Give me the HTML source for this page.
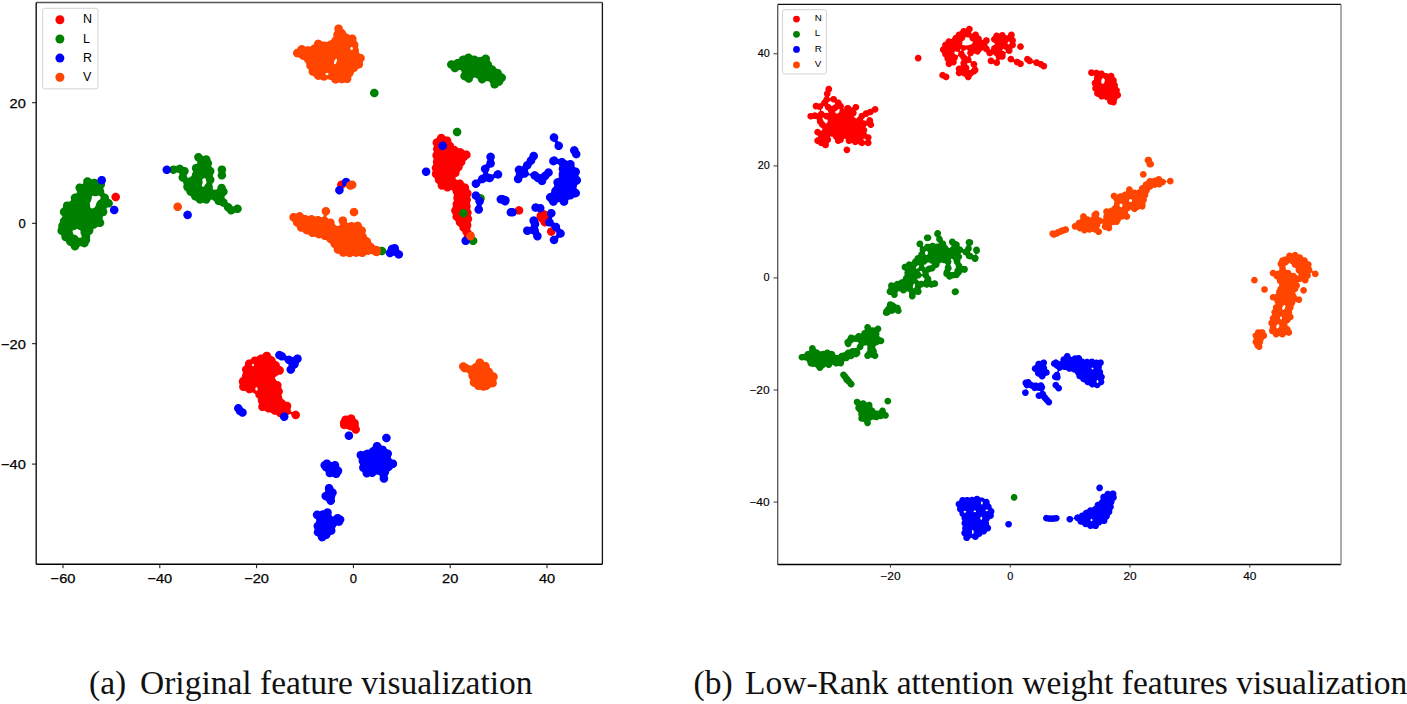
<!DOCTYPE html>
<html><head><meta charset="utf-8"><style>
html,body{margin:0;padding:0;background:#fff;}
body{width:1407px;height:704px;overflow:hidden;position:relative;}
svg{position:absolute;left:0;top:0;}
.tl{font-family:"Liberation Sans",sans-serif;font-size:13px;fill:#000;stroke:#000;stroke-width:0.25px;}
.tr{font-family:"Liberation Sans",sans-serif;font-size:11px;fill:#000;stroke:#000;stroke-width:0.15px;}
.lg1{font-family:"Liberation Sans",sans-serif;font-size:12.5px;fill:#000;}
.lg2{font-family:"Liberation Sans",sans-serif;font-size:9.8px;fill:#000;}
.cap{position:absolute;font-family:"Liberation Serif",serif;font-size:33.5px;color:#111;white-space:pre;line-height:1;}
</style></head><body>
<svg width="1407" height="704" viewBox="0 0 1407 704">
<line x1="36.2" y1="2.5" x2="602.4" y2="2.5" stroke="#555" stroke-width="1.3"/><line x1="36.2" y1="2.5" x2="36.2" y2="564.3" stroke="#111" stroke-width="1.4"/><line x1="602.4" y1="2.5" x2="602.4" y2="564.3" stroke="#111" stroke-width="1.3"/><line x1="36.2" y1="564.3" x2="602.4" y2="564.3" stroke="#000" stroke-width="1.5"/>
<line x1="63.0" y1="564.2" x2="63.0" y2="568.2" stroke="#111" stroke-width="1"/>
<text x="63.0" y="583.3" class="tl" text-anchor="middle" textLength="24.8" lengthAdjust="spacingAndGlyphs">−60</text>
<line x1="159.8" y1="564.2" x2="159.8" y2="568.2" stroke="#111" stroke-width="1"/>
<text x="159.8" y="583.3" class="tl" text-anchor="middle" textLength="24.8" lengthAdjust="spacingAndGlyphs">−40</text>
<line x1="256.6" y1="564.2" x2="256.6" y2="568.2" stroke="#111" stroke-width="1"/>
<text x="256.6" y="583.3" class="tl" text-anchor="middle" textLength="24.8" lengthAdjust="spacingAndGlyphs">−20</text>
<line x1="353.4" y1="564.2" x2="353.4" y2="568.2" stroke="#111" stroke-width="1"/>
<text x="353.4" y="583.3" class="tl" text-anchor="middle">0</text>
<line x1="450.2" y1="564.2" x2="450.2" y2="568.2" stroke="#111" stroke-width="1"/>
<text x="450.2" y="583.3" class="tl" text-anchor="middle" textLength="16.2" lengthAdjust="spacingAndGlyphs">20</text>
<line x1="547.0" y1="564.2" x2="547.0" y2="568.2" stroke="#111" stroke-width="1"/>
<text x="547.0" y="583.3" class="tl" text-anchor="middle" textLength="16.2" lengthAdjust="spacingAndGlyphs">40</text>
<line x1="32" y1="102.7" x2="36.2" y2="102.7" stroke="#111" stroke-width="1"/>
<text x="25.8" y="107.7" class="tl" text-anchor="end" textLength="16.2" lengthAdjust="spacingAndGlyphs">20</text>
<line x1="32" y1="223.3" x2="36.2" y2="223.3" stroke="#111" stroke-width="1"/>
<text x="25.8" y="228.3" class="tl" text-anchor="end">0</text>
<line x1="32" y1="343.7" x2="36.2" y2="343.7" stroke="#111" stroke-width="1"/>
<text x="25.8" y="348.7" class="tl" text-anchor="end" textLength="24.8" lengthAdjust="spacingAndGlyphs">−20</text>
<line x1="32" y1="464.1" x2="36.2" y2="464.1" stroke="#111" stroke-width="1"/>
<text x="25.8" y="469.1" class="tl" text-anchor="end" textLength="24.8" lengthAdjust="spacingAndGlyphs">−40</text>
<line x1="777.7" y1="4.4" x2="1341" y2="4.4" stroke="#111" stroke-width="1.4"/>
<line x1="777.7" y1="4.4" x2="777.7" y2="564.4" stroke="#555" stroke-width="1.3"/>
<line x1="777.7" y1="564.4" x2="1341" y2="564.4" stroke="#000" stroke-width="1.5"/>
<line x1="1341" y1="4.4" x2="1341" y2="564.4" stroke="#888" stroke-width="1.4"/>
<line x1="890.4" y1="564.2" x2="890.4" y2="567.6" stroke="#222" stroke-width="0.9"/>
<text x="890.4" y="579.7" class="tr" text-anchor="middle" textLength="20.3" lengthAdjust="spacingAndGlyphs">−20</text>
<line x1="1010.2" y1="564.2" x2="1010.2" y2="567.6" stroke="#222" stroke-width="0.9"/>
<text x="1010.2" y="579.7" class="tr" text-anchor="middle">0</text>
<line x1="1130.0" y1="564.2" x2="1130.0" y2="567.6" stroke="#222" stroke-width="0.9"/>
<text x="1130.0" y="579.7" class="tr" text-anchor="middle" textLength="13.2" lengthAdjust="spacingAndGlyphs">20</text>
<line x1="1249.8" y1="564.2" x2="1249.8" y2="567.6" stroke="#222" stroke-width="0.9"/>
<text x="1249.8" y="579.7" class="tr" text-anchor="middle" textLength="13.2" lengthAdjust="spacingAndGlyphs">40</text>
<line x1="773.5" y1="53.8" x2="777.7" y2="53.8" stroke="#222" stroke-width="0.9"/>
<text x="769.7" y="57.3" class="tr" text-anchor="end" textLength="12" lengthAdjust="spacingAndGlyphs">40</text>
<line x1="773.5" y1="165.9" x2="777.7" y2="165.9" stroke="#222" stroke-width="0.9"/>
<text x="769.7" y="169.4" class="tr" text-anchor="end" textLength="12" lengthAdjust="spacingAndGlyphs">20</text>
<line x1="773.5" y1="277.9" x2="777.7" y2="277.9" stroke="#222" stroke-width="0.9"/>
<text x="769.7" y="281.4" class="tr" text-anchor="end">0</text>
<line x1="773.5" y1="390.0" x2="777.7" y2="390.0" stroke="#222" stroke-width="0.9"/>
<text x="769.7" y="393.5" class="tr" text-anchor="end" textLength="20.3" lengthAdjust="spacingAndGlyphs">−20</text>
<line x1="773.5" y1="502.1" x2="777.7" y2="502.1" stroke="#222" stroke-width="0.9"/>
<text x="769.7" y="505.6" class="tr" text-anchor="end" textLength="20.3" lengthAdjust="spacingAndGlyphs">−40</text>
<path d="M552.1,227.4 L551.2,227.3 L550.4,227.4 L549.6,227.7 L548.9,228.1 L548.2,228.6 L547.7,229.3 L547.3,230 L547.1,230.8 L547,231.7 L547.1,232.5 L547.4,233.3 L547.8,234 L548.3,234.7 L549,235.2 L549.7,235.6 L550.5,235.8 L551.4,235.9 L552.2,235.8 L553,235.5 L553.7,235.1 L554.4,234.6 L554.9,233.9 L555.3,233.2 L555.5,232.4 L555.6,231.5 L555.5,230.7 L555.2,229.9 L554.8,229.2 L554.3,228.5 L553.6,228 L552.9,227.6ZM540.4,222.5 L541.2,224.4 L541.8,225.1 L542.5,225.7 L543.2,226.1 L544.2,226.4 L545.8,226.4 L546.8,226.1 L548.1,225.2 L548.7,224.5 L549.1,223.8 L549.4,222.9 L549.5,221.9 L549.4,221.1 L548.9,219.5 L549.4,217.7 L549.5,216.4 L549.4,215.2 L549,214 L548.4,212.8 L547.5,211.9 L546.6,211.1 L545.5,210.5 L544.3,210.1 L543.1,210 L541.8,210.1 L540.6,210.5 L539.4,211.1 L538.5,211.9 L537.6,212.8 L537,214 L536.6,215.2 L536.5,216.4 L536.6,217.7 L537,218.9 L537.6,220.1 L538.4,221ZM520.6,206.4 L519.8,206.2 L518.9,206.1 L518.1,206.2 L517.3,206.5 L516.6,206.9 L515.9,207.4 L515.4,208.1 L515,208.8 L514.8,209.6 L514.7,210.5 L514.8,211.3 L515.1,212.1 L515.5,212.8 L516,213.5 L516.7,214 L517.4,214.4 L518.2,214.6 L519.1,214.7 L519.9,214.6 L520.7,214.3 L521.4,213.9 L522.1,213.4 L522.6,212.7 L523,212 L523.2,211.2 L523.3,210.3 L523.2,209.5 L522.9,208.7 L522.5,208 L522,207.3 L521.3,206.8ZM432.6,170.7 L432.6,171.2 L431.9,173.1 L431.8,174 L432.1,175.5 L432.5,176.2 L433,176.9 L434.5,178 L434.7,178.5 L434.8,180.5 L435,181.3 L435.4,182 L435.9,182.7 L437.4,183.8 L437.6,184.2 L437.7,186.4 L438.3,187.8 L438.8,188.4 L439.6,189.1 L441,189.7 L442,189.8 L443.3,189.6 L443.8,189.8 L445,190.8 L445.8,191.2 L446.6,191.4 L447.4,191.5 L448.3,191.4 L449.1,191.2 L450.8,190.1 L451.3,190 L451.9,190.2 L452.2,190.5 L452.5,190.9 L452.6,192.2 L452.9,193 L453.9,194.7 L454,195.2 L453.4,196.9 L453.3,197.9 L453.4,198.7 L453.9,200.4 L453.9,200.9 L452.8,202.5 L452.6,203.5 L452.6,205 L452.9,206.5 L452.8,207 L451.9,208.1 L451.5,208.9 L451.2,209.8 L451.1,210.6 L451.2,211.5 L451.5,212.3 L451.9,213 L452.7,214 L452.8,214.6 L452.4,216.6 L452.5,217.4 L452.8,218.3 L453.1,219 L453.8,219.7 L455.5,221 L455.7,221.4 L455.8,223.1 L456.4,224.5 L457,225.2 L457.6,225.7 L458.8,226.4 L459.1,226.7 L459.3,227.1 L459.4,228.5 L460,229.9 L460.7,230.6 L462.1,231.7 L462.3,232 L462.7,233.5 L463.9,235.2 L464,235.7 L463.7,237.1 L463.6,238 L463.9,239.6 L464.3,240.4 L465.4,241.5 L466.1,241.9 L466.9,242.2 L467.9,242.3 L468.7,242.2 L469.6,241.9 L470.8,241.1 L471.7,239.8 L473.2,238.6 L473.8,237.9 L474.2,237.1 L474.5,235.5 L474.5,234.6 L474.2,233.8 L473.8,233 L472.7,231.9 L471.3,231.2 L471,230.9 L470.2,229 L470.2,228.5 L471.1,226.9 L471.4,225.4 L471.4,224.5 L470.8,222.8 L470.8,222.3 L471.9,220.6 L472.1,219.8 L472.2,219 L472.2,218.2 L471.9,217.4 L471,215.8 L470.9,215.3 L471.6,213.5 L471.7,212.5 L471.6,211.7 L471.3,210.9 L470.2,209.2 L470.2,208.7 L470.7,207.1 L470.8,206.2 L470.5,204.7 L469.9,203.3 L469.9,202.8 L470.6,201.5 L470.9,200.6 L470.9,199 L470.2,197.2 L470.3,196.7 L471.3,195.1 L471.5,194.3 L471.6,193.4 L471.5,192.5 L471.3,191.7 L470.8,190.9 L470.3,190.3 L469.2,189.4 L469,188.9 L469.1,187.6 L469,186.8 L468.4,185.3 L467.8,184.6 L467.1,184.1 L466.4,183.7 L464.5,183.2 L464.1,182.9 L463.4,181.4 L462.9,180.8 L462.2,180.2 L461.5,179.8 L460.6,179.5 L459.7,179.5 L458.9,179.6 L457.5,180 L457,179.9 L456,179.1 L455.6,178.7 L455.5,178.2 L455.6,177.6 L455.9,177.2 L457.8,176.3 L458.5,175.7 L459,175.1 L459.6,173.6 L459.7,171.6 L459.9,171.2 L461.4,170.1 L462,169.4 L462.6,167.9 L462.7,166.5 L463,166.1 L464.2,165.1 L465.1,163.8 L465.3,162.9 L465.4,161.2 L465.7,160.8 L466.8,159.9 L467.5,158.9 L469.9,157.6 L470.5,156.4 L470.6,154.8 L470.5,153.9 L470.3,153 L469.4,151.7 L468.8,151.2 L468,150.8 L467.2,150.5 L466.4,150.4 L464.7,150.6 L464.2,150.4 L463.3,149.3 L462,148.5 L461.2,148.2 L460.3,148.1 L458.7,148.3 L458.2,148.1 L457.2,147.1 L456.6,146.5 L455.8,146.1 L454.5,145.7 L454.2,145.4 L453.4,143.6 L452.8,143 L451.6,142 L451.4,141.6 L451.3,139.9 L451,139 L450.2,137.7 L449.4,137.1 L448.7,136.7 L447.9,136.4 L445.7,136.4 L445.2,136.2 L444.3,135.1 L443.6,134.6 L442.9,134.1 L442.1,133.9 L441.1,133.8 L440.3,133.9 L439.5,134.1 L438.8,134.6 L437.7,135.7 L437.2,136.5 L436.8,137.8 L436.4,138.2 L435.1,138.7 L434.4,139.1 L433.7,139.6 L432.9,140.9 L432.6,141.9 L432.5,142.7 L432.6,143.5 L432.9,144.3 L433.7,145.8 L433.8,146.3 L433.1,148.1 L433,148.9 L433.1,149.9 L433.7,151.5 L433.7,152 L432.7,153.7 L432.4,154.5 L432.3,155.3 L432.4,156.1 L432.6,156.9 L433.5,158.5 L433.6,159 L432.9,160.9 L432.8,161.7 L432.9,162.7 L433.3,163.9 L433.2,164.4 L432.1,166.2 L431.8,167 L431.7,167.9 L431.8,168.7 L432,169.5ZM340.9,420.1 L340.2,421.2 L339.9,422.2 L339.9,423 L340.1,425.7 L340.3,426.5 L340.7,427.2 L341.2,427.9 L342,428.5 L343.4,429.1 L344.2,429.2 L345.1,429.1 L346.6,428.7 L347.2,428.9 L349,430.1 L351.1,430.6 L351.5,430.8 L352.7,432.6 L354,433.4 L354.9,433.7 L356.5,433.7 L357.4,433.4 L358.7,432.6 L359.3,431.8 L359.9,430.4 L360,429.4 L359.7,427.9 L358.8,426.3 L358.7,424.5 L358.8,423.1 L358.5,421.6 L358.1,420.9 L357.5,420.1 L355.8,419 L355.5,418.6 L355.1,417 L354.7,416.3 L354.2,415.6 L353.4,415 L352,414.4 L351,414.3 L350.2,414.4 L349.4,414.7 L347.5,415.8 L345.4,415.5 L343.9,415.8 L343.1,416.3 L342,417.4 L341.5,418.2 L341.2,419.4ZM342.2,180.6 L341.3,180.5 L340.5,180.6 L339.7,180.9 L339,181.3 L338.3,181.8 L337.8,182.5 L337.4,183.2 L337.2,184 L337.1,184.9 L337.2,185.7 L337.5,186.5 L337.9,187.2 L338.4,187.9 L339.1,188.4 L339.8,188.8 L340.6,189 L341.5,189.1 L342.3,189 L343.1,188.7 L343.8,188.3 L344.5,187.8 L345,187.1 L345.4,186.4 L345.6,185.6 L345.7,184.7 L345.6,183.9 L345.3,183.1 L344.9,182.4 L344.4,181.7 L343.7,181.2 L343,180.8ZM239.6,384.4 L239.2,385.9 L239.1,386.8 L239.2,387.6 L239.4,388.4 L239.8,389.2 L240.4,389.8 L241,390.3 L241.8,390.7 L242.6,390.9 L243.4,391 L245,390.8 L245.5,391 L247,392.5 L247.7,392.9 L248.7,393.2 L250.2,393.2 L252.1,392.5 L252.6,392.5 L254.9,393.8 L255.2,394.2 L255.6,396.2 L256,396.9 L256.6,397.6 L257.7,398.5 L257.9,399.1 L257.8,400.5 L257.9,401.5 L258.1,402.3 L258.9,403.6 L259,404.1 L258.3,405.9 L258.2,406.8 L258.3,407.6 L258.5,408.4 L258.9,409.2 L259.4,409.8 L260.2,410.4 L261.6,411 L262.4,411.1 L264.6,410.7 L265.1,410.9 L266.4,411.9 L267.8,412.5 L268.8,412.6 L270.3,412.4 L270.8,412.5 L271.8,413.5 L273.1,414.4 L274,414.7 L276,414.7 L276.4,414.9 L277.3,415.9 L277.9,416.5 L278.7,416.9 L279.6,417.2 L281.1,417.2 L282.1,416.9 L282.8,416.5 L284.2,415.2 L284.7,415 L286.5,415.3 L287.3,415.2 L288.3,415 L289.7,414.1 L290.2,414 L290.6,414.1 L291,414.3 L291.3,414.7 L291.7,416.5 L292.2,417.3 L293.3,418.4 L294.1,418.9 L295.6,419.2 L296.5,419.1 L297.3,418.9 L298.1,418.4 L298.8,417.9 L299.3,417.2 L299.9,415.8 L300,415 L299.9,414.1 L299.6,413.2 L298.8,411.9 L298.1,411.4 L297.4,411 L296.6,410.7 L295.8,410.6 L294.9,410.7 L294.1,410.9 L292.5,411.9 L292.1,411.9 L291.6,411.8 L291.2,411.6 L291,411.2 L290.5,408.9 L291.2,406.9 L291.3,405.9 L291,404.4 L290.6,403.5 L289.5,402.4 L288.7,402 L287.8,401.7 L286,401.7 L285.6,401.4 L284.4,399.9 L282.5,398.7 L282.3,398.2 L282.1,396.7 L281.6,395.2 L281.6,394.7 L282.6,393.1 L282.8,392.2 L282.9,391.4 L282.8,390.6 L282.5,389.8 L282.1,389 L281.3,388 L281.2,387.5 L281.6,385.4 L281.5,384.6 L281.3,383.7 L280.9,382.9 L280.3,382.2 L279.7,381.7 L278.2,381.1 L276.9,380.9 L276.5,380.7 L275.8,379.5 L274.9,378.3 L274.9,377.8 L275,377.3 L275.3,376.9 L277,376 L278.3,374.9 L278.6,374.7 L280.4,374.7 L281.2,374.4 L282,374 L282.6,373.5 L283.2,372.8 L283.8,371.3 L283.9,370.5 L283.8,369.5 L283.2,368.1 L282.7,367.5 L282,366.8 L280.4,366.1 L280,365.7 L279.6,363.8 L279.2,363 L278.7,362.4 L277.9,361.8 L276.1,360.9 L275.8,360.5 L275.4,358.9 L274.9,358 L274.4,357.4 L273.7,356.9 L273,356.5 L271.6,356 L271.2,355.6 L270.8,354.3 L270.4,353.5 L269.9,352.9 L269.1,352.3 L268.4,351.9 L267.6,351.7 L266,351.7 L265.2,351.9 L264.5,352.3 L263.8,352.8 L262.7,354.2 L262.3,354.4 L260.9,354.4 L259.4,354.7 L258.6,355.2 L257.1,356.6 L256.6,356.7 L254.8,356.4 L253.3,356.8 L252.5,357.1 L251.9,357.7 L250.7,359.2 L250.3,359.4 L248.4,359.5 L247.6,359.7 L246.8,360.1 L246.1,360.7 L245.6,361.4 L245,362.8 L244.9,364.9 L244.7,365.4 L243.4,366.4 L242.8,367 L242.4,367.8 L242.1,368.6 L242,369.4 L242.1,370.4 L243,372.4 L243,372.9 L242.3,374.1 L242.1,374.9 L242,376.7 L241.7,377.1 L240.1,378.3 L239.5,378.9 L239.1,379.7 L238.9,380.5 L238.8,381.3 L238.8,382.2ZM253.7,364.2 L254,364.8 L253.8,365.7 L253.4,366.1 L253,366.2 L252.6,366.1 L252.3,365.8 L252,365.2 L252.2,364.3 L252.4,364 L252.8,363.8 L253.4,363.9ZM257.3,387.7 L257.6,388.3 L257.7,389 L257.5,390 L257,390.7 L256.3,390.8 L255.7,390.3 L255.4,389.7 L255.3,388.6 L255.5,388 L256,387.3 L256.5,387.2 L257,387.3ZM117.3,193 L116.5,192.8 L115.6,192.7 L114.8,192.8 L114,193.1 L113.3,193.5 L112.6,194 L112.1,194.7 L111.7,195.4 L111.5,196.2 L111.4,197.1 L111.5,197.9 L111.8,198.7 L112.2,199.4 L112.7,200.1 L113.4,200.6 L114.1,201 L114.9,201.2 L115.8,201.3 L116.6,201.2 L117.4,200.9 L118.1,200.5 L118.8,200 L119.3,199.3 L119.7,198.6 L119.9,197.8 L120,196.9 L119.9,196.1 L119.6,195.3 L119.2,194.6 L118.7,193.9 L118,193.4Z" fill="#ff0000" fill-rule="evenodd"/>
<path d="M450.4,68.8 L450.7,69.1 L451.4,70.4 L451.9,71 L453.2,71.9 L454.1,72.2 L455.7,72.2 L456.6,71.9 L457.3,71.5 L458.7,70.2 L459.2,70 L460.6,70.3 L461,70.6 L461.7,72.2 L461.6,72.7 L460.6,74.4 L460.3,75.3 L460.3,76.9 L460.6,77.8 L461,78.6 L462.1,79.6 L462.9,80.1 L464.7,80.6 L465.8,81.6 L467,82.5 L467.8,82.7 L468.8,82.8 L469.6,82.7 L471.1,82.2 L471.7,81.6 L472.4,80.9 L472.7,80.1 L473.2,78.3 L473.5,77.9 L474.7,77.5 L475.2,77.5 L477.4,78.7 L477.7,79.1 L478.2,80.9 L479.1,82.1 L479.8,82.8 L481.2,83.4 L482.2,83.5 L483,83.4 L483.8,83.1 L485.1,82.2 L486.1,81.3 L486.6,81.1 L488.9,81.4 L489.4,81.7 L490.3,83.3 L490.4,85.2 L490.7,86 L491.1,86.7 L491.6,87.4 L492.3,87.9 L493,88.3 L493.8,88.5 L495.4,88.5 L496.3,88.2 L497.6,87.4 L498.6,86.1 L498.9,85.9 L500.7,85.4 L502,84.6 L502.5,83.9 L502.9,83.2 L503.5,81.7 L504.7,80.8 L505.3,80 L505.7,79.3 L505.9,78.5 L505.9,76.9 L505.7,76.1 L505.3,75.4 L504.7,74.7 L504.1,74.2 L502.3,73.3 L502,72.9 L501.6,71.5 L501.2,70.7 L500.6,70.1 L500,69.6 L499.2,69.2 L498.4,68.9 L496.9,68.8 L496.4,68.5 L495.6,67.3 L495.1,66.6 L494.4,66.1 L492.6,65.3 L492.2,64.9 L491.8,63.3 L491.5,62.6 L490,61 L489.8,60.5 L490,58.9 L489.9,58.1 L489.7,57.2 L489.3,56.5 L488.8,55.8 L488,55.2 L487.3,54.8 L486.5,54.6 L485.6,54.5 L484.1,54.8 L483.2,55.3 L481.7,56.8 L479.9,56.9 L478.5,57.3 L478,57.2 L476.9,56.3 L476.2,55.9 L475.4,55.6 L474.4,55.5 L472.8,55.7 L472.3,55.6 L470.8,54.2 L470.1,53.8 L469.3,53.5 L468.3,53.4 L466.8,53.7 L466,54.2 L464.6,55.4 L464.2,55.6 L462.2,55.6 L461.4,55.9 L460.6,56.2 L460,56.8 L459.4,57.4 L458.7,58.7 L458.2,59 L456.7,59.1 L455.9,59.3 L455.2,59.7 L454,60.6 L453.5,60.7 L452.1,60.3 L451.2,60.2 L450.4,60.3 L449,60.9 L448.3,61.4 L447.7,62.2 L447.1,63.6 L447,64.4 L447.1,65.4 L447.7,66.8 L448.2,67.5 L449,68.1ZM481.3,194.2 L480.4,194.1 L479.6,194.2 L478.8,194.5 L478.1,194.9 L477.4,195.4 L476.9,196.1 L476.5,196.8 L476.3,197.6 L476.2,198.5 L476.3,199.3 L476.6,200.1 L477,200.8 L477.5,201.5 L478.2,202 L478.9,202.4 L479.7,202.6 L480.6,202.7 L481.4,202.6 L482.2,202.3 L482.9,201.9 L483.6,201.4 L484.1,200.7 L484.5,200 L484.7,199.2 L484.8,198.3 L484.7,197.5 L484.4,196.7 L484,196 L483.5,195.3 L482.8,194.8 L482.1,194.4ZM473,236.5 L472.2,236.6 L471.4,236.9 L470.7,237.3 L470,237.8 L469.5,238.5 L469.1,239.2 L468.9,240 L468.8,240.9 L468.9,241.7 L469.2,242.5 L469.6,243.2 L470.1,243.9 L470.8,244.4 L471.5,244.8 L472.3,245 L473.2,245.1 L474,245 L474.8,244.7 L475.5,244.3 L476.2,243.8 L476.7,243.1 L477.1,242.4 L477.3,241.6 L477.4,240.7 L477.3,239.9 L477,239.1 L476.6,238.4 L476.1,237.7 L475.4,237.2 L474.7,236.8 L473.9,236.6ZM464.1,209 L463.2,208.9 L462.4,209 L461.6,209.3 L460.9,209.7 L460.2,210.2 L459.7,210.9 L459.3,211.6 L459.1,212.4 L459,213.3 L459.1,214.1 L459.4,214.9 L459.8,215.6 L460.3,216.3 L461,216.8 L461.7,217.2 L462.5,217.4 L463.4,217.5 L464.2,217.4 L465,217.1 L465.7,216.7 L466.4,216.2 L466.9,215.5 L467.3,214.8 L467.5,214 L467.6,213.1 L467.5,212.3 L467.2,211.5 L466.8,210.8 L466.3,210.1 L465.6,209.6 L464.9,209.2ZM457.9,127.8 L457,127.7 L456.2,127.8 L455.4,128.1 L454.7,128.5 L454,129 L453.5,129.7 L453.1,130.4 L452.9,131.2 L452.8,132.1 L452.9,132.9 L453.2,133.7 L453.6,134.4 L454.1,135.1 L454.8,135.6 L455.5,136 L456.3,136.2 L457.2,136.3 L458,136.2 L458.8,135.9 L459.5,135.5 L460.2,135 L460.7,134.3 L461.1,133.6 L461.3,132.8 L461.4,131.9 L461.3,131.1 L461,130.3 L460.6,129.6 L460.1,128.9 L459.4,128.4 L458.7,128ZM381.8,246.7 L381,246.8 L380.2,247.1 L379.5,247.5 L378.8,248 L378.3,248.7 L377.9,249.4 L377.7,250.2 L377.6,251.1 L377.7,251.9 L378,252.7 L378.4,253.4 L378.9,254.1 L379.6,254.6 L380.3,255 L381.1,255.2 L382,255.3 L382.8,255.2 L383.6,254.9 L384.3,254.5 L385,254 L385.5,253.3 L385.9,252.6 L386.1,251.8 L386.2,250.9 L386.1,250.1 L385.8,249.3 L385.4,248.6 L384.9,247.9 L384.2,247.4 L383.5,247 L382.7,246.8ZM375.1,88.8 L374.2,88.7 L373.4,88.8 L372.6,89.1 L371.9,89.5 L371.2,90 L370.7,90.7 L370.3,91.4 L370.1,92.2 L370,93.1 L370.1,93.9 L370.4,94.7 L370.8,95.4 L371.3,96.1 L372,96.6 L372.7,97 L373.5,97.2 L374.4,97.3 L375.2,97.2 L376,96.9 L376.7,96.5 L377.4,96 L377.9,95.3 L378.3,94.6 L378.5,93.8 L378.6,92.9 L378.5,92.1 L378.2,91.3 L377.8,90.6 L377.3,89.9 L376.6,89.4 L375.9,89ZM176.3,166 L175.8,166 L174.3,165.5 L173.3,165.4 L171.8,165.7 L171,166.2 L169.9,167.3 L169.5,168 L169.2,168.8 L169.1,169.8 L169.2,170.6 L169.5,171.4 L169.9,172.1 L171,173.2 L171.7,173.6 L172.5,173.9 L173.3,174 L174.3,173.9 L175.1,173.6 L176.8,172.6 L177.3,172.6 L178.6,173 L179,173.3 L179.3,173.6 L179.5,174.1 L179.5,174.6 L178.9,175.8 L178.6,176.6 L178.5,177.4 L178.6,178.4 L179.2,179.8 L179.8,180.6 L181.1,181.4 L182.5,181.8 L183.2,182.5 L183.7,184.6 L183.3,186 L183.2,186.8 L183.3,187.8 L183.6,188.6 L184.4,189.9 L186.1,191.2 L186.7,193.3 L187.5,194.6 L188.2,195.1 L188.9,195.5 L190.3,196 L190.7,196.2 L191,196.6 L191.3,197.8 L191.7,198.5 L192.2,199.2 L192.9,199.7 L193.7,200.2 L195.7,200.7 L197,202.5 L197.7,203 L199.1,203.6 L199.9,203.7 L200.8,203.6 L201.6,203.4 L202.8,202.8 L203.4,202.8 L204.6,203.4 L205.4,203.6 L206.3,203.7 L207.8,203.4 L208.6,202.9 L209.7,201.8 L210.6,200 L211,199.7 L211.5,199.6 L212.1,199.7 L214.3,201.3 L215.2,203.2 L215.7,203.9 L216.5,204.5 L217.9,205.1 L219.9,205.2 L221.7,206.4 L223.1,206.8 L223.5,207.1 L223.8,207.5 L224.2,208.9 L225,210.2 L225.7,210.7 L226.9,211.5 L227.7,212.7 L228.8,213.8 L229.5,214.2 L230.3,214.5 L231.3,214.6 L232.8,214.3 L233.6,213.8 L234.8,212.8 L235.4,212.7 L237.4,213.1 L238.3,213 L239.1,212.8 L239.9,212.3 L241,211.2 L241.4,210.5 L241.7,209.7 L241.8,208.9 L241.7,208 L241.5,207.2 L241.1,206.5 L240.6,205.8 L239.9,205.3 L239.2,204.9 L238.4,204.6 L237.6,204.5 L236.7,204.6 L235.9,204.8 L235.2,205.2 L233.9,206.3 L233.3,206.4 L232.8,206.3 L232.4,206 L231.6,204.8 L230.5,203.7 L229.7,203.2 L228.4,202.9 L228,202.6 L227.7,202.2 L227.4,200.9 L226.9,200.1 L226.4,199.4 L224.7,198.2 L224.5,197.6 L224.5,197.2 L224.8,195.9 L226.4,194.7 L226.9,194 L227.3,193.3 L227.6,192.5 L227.7,191.5 L227.6,190.7 L227.3,189.9 L226.9,189.2 L226,188.1 L225.5,186.4 L224.7,185.1 L224,184.6 L223.2,184.1 L222.4,183.9 L221.5,183.8 L220,184.1 L219.2,184.6 L218.5,185.1 L218,185.8 L217.4,187.2 L217.2,188.8 L216.9,189.3 L216.5,189.6 L213.9,189.8 L213.4,189.6 L212.9,189.1 L212.7,188.6 L212.9,187 L212.8,186.1 L212.2,184.5 L212.3,184 L212.4,183.6 L213.7,182.2 L214.1,181.5 L214.4,180.7 L214.5,179.7 L214.2,178.2 L213.8,177.5 L213,176.4 L212.8,175.3 L212.9,174.7 L213.8,173.5 L214.2,172.8 L214.5,171.3 L214.4,170.4 L214.2,169.6 L213.7,168.8 L213.2,168.1 L211.6,167 L211.4,166.6 L211.3,166.1 L212,164.2 L212.1,163.3 L212,162.5 L211.4,161.1 L210.6,160 L210.4,158.6 L210.1,157.8 L209.3,156.5 L208.6,156 L207.8,155.5 L206.3,155.2 L205.3,155.3 L203.5,156 L203,155.9 L202.6,155.7 L201.5,154.2 L200.8,153.7 L200,153.2 L199.2,153 L198.3,152.9 L196.8,153.2 L196,153.7 L195.3,154.2 L194.8,154.9 L194.2,156.3 L194.1,157.1 L194.2,158.1 L194.8,159.5 L195.3,160.2 L197.1,161.5 L197.3,162.1 L197.3,162.9 L197,163.4 L196.6,163.7 L195.2,163.9 L193.8,164.5 L193.1,165 L192.5,165.8 L191.9,167.2 L191.8,168.2 L192.1,169.7 L193,171.2 L193,172.1 L192.1,173.6 L191.7,175.8 L191.4,176.3 L189.9,177 L188.8,177.8 L188.4,177.9 L187.9,177.8 L187.5,177.6 L187.2,177.2 L186.8,175.9 L186.7,175.4 L186.8,174.9 L187.9,173.6 L188.3,172.9 L188.6,172.1 L188.7,171.3 L188.6,170.4 L188.4,169.6 L187.9,168.8 L187.4,168.1 L186.7,167.6 L186,167.2 L185.2,167 L183.9,166.9 L183.5,166.7 L182,165.3 L181.3,164.9 L180.5,164.7 L179.6,164.6 L178.1,164.9ZM202,186 L201.8,185.6 L201.8,185.1 L202.4,183.8 L202.7,182.3 L202.3,180.1 L202.4,179.6 L203.6,178.3 L204.1,178.2 L204.5,178.2 L205,178.3 L205.3,178.6 L205.8,179.3 L206,180.7 L206.6,182.2 L206.5,182.7 L206.4,183.1 L205.1,184.5 L204.2,186.2 L203.9,186.5 L203.4,186.7 L202.9,186.7 L202.3,186.4ZM218.4,172.3 L218.4,172.7 L217.7,174.4 L217.6,175.4 L217.7,176.2 L218,177 L218.4,177.7 L218.9,178.4 L219.6,178.9 L220.3,179.3 L221.1,179.5 L222,179.6 L222.8,179.5 L223.6,179.2 L224.3,178.8 L225,178.3 L225.8,177 L226.1,176.1 L226.1,174.5 L225.4,172.7 L225.4,172.3 L226.1,170.6 L226.2,169.6 L226.1,168.8 L225.8,168 L225.4,167.3 L224.9,166.6 L224.2,166.1 L223.5,165.7 L222,165.4 L221.1,165.5 L220.3,165.7 L219.6,166.1 L218.9,166.6 L218.4,167.3 L218,168 L217.7,168.8 L217.6,169.6 L217.7,170.6ZM58.4,227.4 L57.8,228.9 L57.5,229.8 L57.5,231.4 L57.7,232.2 L58.1,232.9 L58.7,233.7 L59.4,234.2 L60.9,234.9 L61.2,235.2 L61.3,235.6 L61.4,237.8 L62,239.2 L62.6,240 L63.3,240.5 L64,240.9 L65.3,241.2 L65.7,241.5 L66,241.9 L66.4,243.3 L67.2,244.6 L67.9,245.1 L68.6,245.5 L70.2,246 L70.6,246.4 L71,247.8 L71.4,248.5 L72,249.3 L72.7,249.8 L73.4,250.2 L74.9,250.5 L75.8,250.4 L76.7,250.1 L78,249.3 L78.5,248.6 L79.4,246.8 L79.8,246.5 L80.6,246.2 L81.2,246.2 L82.8,247.1 L83.6,247.3 L84.5,247.4 L85.3,247.3 L86.1,247 L86.8,246.6 L87.5,246.1 L88.3,244.8 L88.8,243.3 L89.5,242.3 L90.1,240.9 L90.2,239.9 L90,238.4 L90.2,237 L90.1,235.4 L90.3,234.9 L92.1,233.7 L92.7,232.9 L93.3,231.5 L93.4,229.5 L93.6,229.1 L94,228.8 L95.4,228.4 L96.1,228 L97.4,226.9 L97.9,226.7 L99.9,227.1 L100.8,227 L101.6,226.8 L102.4,226.3 L103.5,225.2 L103.9,224.5 L104.2,223.7 L104.3,222.9 L104.2,222 L104,221.2 L103.6,220.5 L102.7,219.3 L102.7,217 L102.9,216.6 L103.3,216.3 L104.7,215.9 L105.5,215.4 L106.2,214.9 L107,213.6 L107.3,212.8 L107.4,211.8 L107.1,210.3 L106.5,209.1 L106.5,208.6 L106.7,208.2 L107,207.8 L107.4,207.6 L109.4,207.5 L110.2,207.3 L110.9,206.9 L111.6,206.4 L112.1,205.7 L112.5,205 L112.8,204.2 L112.9,203.2 L112.8,202.4 L112.5,201.6 L112.1,200.9 L111.6,200.2 L110.9,199.7 L109.5,199 L109.2,198.7 L109,198.3 L108.9,196.9 L108.6,196.1 L108.2,195.4 L107.1,194.3 L106.3,193.8 L104.9,193.4 L104.5,193.1 L104.3,192.7 L104.2,190.7 L103.4,188.7 L103.4,188.1 L104.4,186.8 L104.8,186.1 L105,185.3 L105.1,184.4 L105,183.6 L104.7,182.8 L104.3,182.1 L103.8,181.4 L102.5,180.6 L101.6,180.3 L100,180.3 L98.7,180.6 L98.1,180.5 L96.8,179.4 L96.1,179 L95.3,178.8 L93.7,178.8 L92.1,179.3 L91.7,179.3 L91.3,179.1 L89.9,177.9 L89.2,177.5 L88.3,177.2 L86.7,177.2 L85.9,177.4 L85.1,177.9 L84.4,178.4 L83.9,179.1 L83.5,179.8 L83.3,180.6 L83.2,181.5 L83.3,182.8 L83.2,183.2 L82.9,183.6 L82.4,183.9 L81.9,183.9 L80.5,183.5 L78.9,183.5 L78.1,183.7 L77.4,184.1 L76.6,184.7 L76.1,185.4 L75.7,186.1 L75.5,186.9 L75.4,187.8 L75.5,188.6 L75.8,189.4 L76.8,191.1 L77,192.1 L76.9,192.6 L76.7,193 L76.4,193.3 L76,193.5 L74.2,193.6 L73.3,193.9 L72,194.7 L71.5,195.4 L71,196.2 L70.8,197 L70.8,198.6 L71.1,199.9 L71,200.4 L69.8,201.5 L69.4,201.7 L68,201.4 L66.4,201.4 L65.5,201.7 L64.8,202.1 L64.1,202.6 L63.6,203.3 L63,204.7 L62.9,205.7 L63,207 L62.8,207.6 L61.1,208.8 L60.6,209.5 L60.2,210.2 L59.9,211 L59.8,211.8 L59.9,212.7 L60.1,213.5 L60.5,214.2 L61,214.9 L62.1,215.8 L62.3,216.3 L62.3,216.8 L62.1,217.3 L60.6,218.8 L60.1,219.6 L59.9,220.4 L59.8,222.4 L58.9,223.6 L58.3,225 L58.2,226ZM90,202.5 L90.6,201.8 L91,201.1 L91.7,198.6 L91.8,196.7 L92,196.2 L92.3,195.9 L92.7,195.7 L93.2,195.7 L94.6,196.2 L95.6,196.3 L96.4,196.2 L98.1,195.6 L99.8,196 L100.2,196.3 L100.4,196.7 L100.5,197.3 L100.4,198.9 L100,199.4 L98.4,200.3 L97.3,201.4 L96,204 L95.6,206 L94.6,207.5 L92.5,208.5 L91.9,208.5 L91.5,208.3 L90.3,207.6 L90.1,207.1 L90.1,204.8 L89.7,203.4ZM72.6,231.6 L72.6,231.1 L72.9,230.6 L73.3,230.3 L75,229.9 L76.5,229 L77.4,229 L78.8,229.8 L80,230.3 L80.4,230.6 L80.6,231.1 L80.5,232.6 L80.6,233.4 L80.9,234.2 L81.6,235.5 L81.7,236.1 L81.5,237.2 L81.1,237.6 L80.7,237.8 L78.9,237.8 L78.4,237.5 L77.3,235.9 L76.6,235.4 L75.8,234.9 L73.7,234.4 L73.3,234Z" fill="#008000" fill-rule="evenodd"/>
<path d="M548.1,201.1 L549.1,202.4 L549.8,203.9 L550.3,204.6 L551.1,205.2 L552.5,205.8 L553.3,205.9 L554.2,205.8 L555,205.6 L555.7,205.2 L556.4,204.7 L556.9,204 L557.7,202.6 L558.3,202.2 L558.8,202.1 L559.3,202.3 L559.7,202.6 L560.5,204 L561,204.7 L561.7,205.2 L562.4,205.6 L563.2,205.8 L564.8,205.8 L565.7,205.5 L566.4,205.1 L567.1,204.6 L567.6,203.9 L568,203.2 L568.2,202.4 L568.3,200.4 L568.5,200 L568.8,199.7 L569.2,199.5 L570.5,199.5 L572,199.2 L572.8,198.7 L574.1,197.5 L574.5,197.4 L575.8,197.4 L577.3,197.1 L578.1,196.6 L578.8,196.1 L579.3,195.4 L579.9,194 L580,193.2 L579.9,192.3 L579.7,191.5 L579.2,190.7 L578.7,190 L576.9,188.8 L576.6,188.4 L576.5,187.9 L576.9,186.6 L577.1,185.2 L577.4,184.7 L579.1,183.9 L579.9,183.3 L580.7,182 L581,181.2 L581.1,180.4 L581,179.5 L580.7,178.6 L579.9,177.3 L578.7,176.3 L578.5,175.8 L578.6,175.2 L579.6,173.5 L579.9,172.7 L580,171.9 L579.9,171 L579.7,170.2 L579.3,169.5 L578.8,168.8 L578.1,168.3 L577.3,167.8 L575.2,167.3 L574.8,166.9 L574.5,166 L574.7,164.2 L574.4,162.7 L574,162 L573.5,161.3 L572.7,160.7 L571.3,160.1 L570.3,160 L569.5,160.1 L567.7,160.8 L567.2,160.8 L565.7,160 L564.2,158.6 L563.5,158.2 L562.7,158 L561.8,157.9 L561,158 L560.2,158.3 L559,158.9 L558.5,158.9 L558,158.7 L557.1,157.6 L556.3,157 L555.6,156.6 L554.1,156.3 L553.1,156.4 L551.7,157 L550.4,158 L549.8,158.8 L549.4,159.5 L549.2,160.3 L549.1,161.2 L549.2,162 L549.8,163.4 L550.3,164.1 L551,164.6 L551.7,165 L552.5,165.3 L553.3,165.4 L554.2,165.3 L555.1,165 L556.8,164 L557.4,163.9 L557.9,164.1 L559.2,165.6 L559.3,166.5 L558.7,168 L558.7,169 L558.7,169.8 L559.3,171.3 L559.3,171.7 L558.8,173 L558.7,173.8 L558.7,175.5 L558.9,176.9 L558.8,177.4 L558.5,177.8 L558.1,178 L556.7,178.2 L555.3,178.8 L554.5,179.4 L554,180.1 L553.6,180.8 L553.3,182.3 L553.4,183.2 L554.2,185.3 L554.1,185.8 L553.7,186.9 L552.4,187.9 L551.6,189.2 L551.3,190.1 L551.2,192.1 L550.9,192.6 L550.5,192.9 L548.6,193.3 L547.8,193.8 L546.7,194.9 L546.2,195.7 L545.9,197.2 L546,198.1 L546.2,198.9 L546.6,199.6 L547.1,200.3ZM571.8,154 L572.3,155.8 L573.1,157.1 L573.8,157.6 L574.5,158 L575.3,158.3 L576.1,158.4 L577,158.3 L577.8,158.1 L578.5,157.7 L579.2,157.2 L579.7,156.5 L580.1,155.8 L580.4,155 L580.5,154.2 L580.4,153.2 L580.1,152.4 L579.7,151.7 L578.7,150.5 L578.3,148.8 L577.8,148 L576.7,146.9 L576,146.5 L575.2,146.2 L574.4,146.1 L573.4,146.2 L572,146.8 L571.2,147.4 L570.7,148.1 L570.3,148.8 L570,150.3 L570.1,151.3 L570.7,152.7ZM548.6,216.7 L548.7,217.2 L548.6,217.7 L548.3,218.1 L547.1,218.8 L546.4,219.3 L545.9,220 L545.5,220.7 L545.2,221.6 L545.1,222.5 L545.2,223.3 L545.8,224.7 L546.3,225.4 L547,225.9 L547.7,226.3 L548.5,226.6 L550.7,226.6 L551.2,226.9 L551.5,227.3 L551.9,228.6 L552.3,229.3 L552.9,230.1 L554.2,230.9 L555.6,231.4 L556,231.7 L556.3,232.2 L556.3,234.3 L556.2,234.7 L556,235.2 L555.7,235.5 L555.2,235.7 L553.2,235.7 L552.3,236 L551.6,236.4 L550.5,237.5 L550.1,238.2 L549.8,239 L549.7,239.8 L549.8,240.8 L550.1,241.6 L550.5,242.3 L551.6,243.4 L552.3,243.8 L553.2,244.1 L554.1,244.2 L554.9,244.1 L555.7,243.8 L556.4,243.4 L557.1,242.9 L557.6,242.2 L558,241.5 L558.2,240.7 L558.3,238.7 L558.5,238.2 L558.8,237.9 L559.3,237.7 L560.6,237.8 L561.4,237.7 L562.8,237.1 L563.6,236.5 L564.4,235.2 L564.7,234.4 L564.8,233.6 L564.7,232.6 L564.1,231.2 L563.5,230.4 L562.2,229.6 L560.8,229.1 L560.4,228.8 L560.1,228.3 L560.1,226.1 L559.8,225.3 L559,224 L558.3,223.5 L557.5,223 L556,222.7 L554.6,222.8 L554.1,222.5 L553.8,222.1 L553.4,220.8 L553,220.1 L552.1,218.9 L552,218.4 L552.1,217.9 L552.4,217.5 L553.6,216.8 L554.4,216.2 L555.2,214.9 L555.5,214 L555.6,213.1 L555.3,211.6 L554.8,210.8 L553.7,209.7 L553,209.3 L552.2,209 L551.4,208.9 L550.5,209 L549.7,209.2 L549,209.6 L548.3,210.1 L547.8,210.8 L547.4,211.5 L547.1,212.3 L547,213.1 L547.1,214 L547.3,214.8 L547.7,215.5ZM554.4,141.9 L554.8,142.3 L555.1,142.7 L555.1,143.2 L554.5,145 L554.5,146.6 L554.7,147.4 L555.1,148.1 L555.7,148.9 L556.4,149.4 L557.1,149.8 L557.9,150 L558.8,150.1 L559.6,150 L560.4,149.7 L561.1,149.3 L561.8,148.8 L562.6,147.5 L562.9,146.6 L562.9,145 L562.6,144.1 L561.8,142.8 L561,142.2 L559.6,141.6 L558.3,141.4 L557.9,141 L557.6,140.6 L557.6,140.1 L558.2,138.4 L558.3,137.6 L558.2,136.6 L557.9,135.8 L557.1,134.5 L556.3,133.9 L554.9,133.3 L553.9,133.2 L553.1,133.3 L552.3,133.6 L551.6,134 L550.9,134.5 L550.4,135.2 L550,135.9 L549.8,136.7 L549.7,137.6 L549.8,138.4 L550.1,139.2 L550.5,139.9 L551,140.6 L551.7,141.1 L552.4,141.5ZM515.6,175.4 L514.6,176.6 L514.1,177.4 L513.8,178.9 L513.9,179.8 L514.2,180.7 L515,182 L515.7,182.5 L516.5,183 L518,183.3 L518.9,183.2 L519.7,183 L520.4,182.6 L521.1,182.1 L521.7,181.3 L522.1,180.6 L522.5,178.6 L523,178 L523.4,177.8 L525.3,177.7 L526.2,177.4 L527.5,176.6 L528.5,175.4 L529,175.2 L529.5,175.2 L529.9,175.4 L530.3,175.8 L531.1,177.7 L531.6,178.4 L532.3,178.9 L534,179.8 L534.9,181 L535.7,181.6 L536.4,182 L537.6,182.3 L538,182.6 L538.9,183.9 L539.7,184.5 L541.1,185.1 L542.1,185.2 L542.9,185.1 L543.7,184.8 L544.4,184.4 L545.1,183.9 L545.6,183.2 L546,182.5 L546.4,180.5 L546.6,180.1 L548.1,179 L548.6,178.3 L549.3,177 L550.9,176.1 L552,175 L552.5,174.2 L552.7,173.4 L552.8,172.5 L552.7,171.7 L552.4,170.9 L552,170.2 L551.5,169.5 L550.8,169 L550.1,168.6 L549.3,168.4 L548.4,168.3 L546.9,168.6 L546.1,169.1 L545,170.2 L544.2,171.6 L542.6,172.5 L541.1,174 L540.6,174.2 L540.2,174.2 L538.7,173.6 L537.7,172.3 L536.4,171.5 L535.6,171.2 L534.8,171.1 L533.8,171.2 L532.4,171.8 L531.6,172.4 L530.7,173.5 L530.2,173.7 L529.7,173.7 L529.3,173.5 L528.9,173.1 L527.9,170.7 L527.9,170.3 L528.1,169.8 L528.4,169.4 L529.6,168.8 L530.4,168.2 L531.2,166.9 L531.7,165.3 L532,164.9 L533.4,164.1 L534.5,163 L535,162.2 L535.4,160.2 L535.6,159.9 L536.7,159.1 L537.2,158.4 L537.6,157.7 L537.9,156.9 L538,156.1 L537.9,155.1 L537.6,154.3 L536.8,153 L536.1,152.5 L535.4,152.1 L534.5,151.8 L533.6,151.7 L532.8,151.8 L532,152.1 L531.3,152.5 L530.2,153.6 L529.7,154.4 L529.3,156.4 L529.1,156.7 L527.9,157.6 L527.4,158.3 L527,159 L526.6,160.5 L526.3,160.9 L524.9,161.7 L523.8,162.8 L523.3,163.6 L522.9,165.5 L522.5,165.9 L522.1,166.2 L521.6,166.2 L519.8,165.6 L518.9,165.5 L518.1,165.6 L516.7,166.2 L516,166.7 L515.5,167.4 L515,168.2 L514.8,169 L514.7,169.9 L515,171.4 L516,173.1ZM533.2,204.1 L532.1,205.2 L531.7,205.9 L531.4,206.7 L531.3,207.7 L531.4,208.5 L532,209.9 L532.6,210.7 L533.3,211.2 L534,211.6 L534.8,211.8 L535.7,211.9 L537.4,211.6 L539.3,212.4 L540.3,212.5 L541.8,212.2 L542.5,211.8 L543.2,211.3 L543.8,210.5 L544.2,209.8 L544.4,209 L544.5,208.1 L544.4,207.3 L544.1,206.5 L543.7,205.8 L543.2,205.1 L542.5,204.6 L541.8,204.2 L541,204 L540.1,203.9 L538.4,204.2 L537.2,203.6 L535.7,203.3 L534.7,203.4 L533.9,203.7ZM530.7,224 L531,225.8 L530.8,226.3 L530.5,226.6 L530,226.9 L529.5,226.9 L528.1,226.5 L527.2,226.4 L526.4,226.5 L525,227.1 L524.3,227.6 L523.8,228.3 L523.3,229.1 L523,230.6 L523.1,231.6 L523.7,233 L524.3,233.8 L525,234.3 L525.7,234.7 L527.2,235 L528.1,234.9 L528.9,234.7 L530.6,233.7 L531.4,233.7 L532.9,234.7 L533.1,235.1 L533.2,237 L533.5,237.9 L533.9,238.6 L535,239.7 L535.8,240.2 L537.3,240.5 L538.3,240.4 L539.7,239.8 L540.5,239.2 L541.3,237.9 L541.6,237 L541.6,235.4 L541.4,234.6 L540.9,233.8 L540.4,233.1 L539.2,232.2 L539,231.8 L538.9,229.8 L538,227.7 L538.1,227.2 L538.9,225.7 L539.2,224.9 L539.3,224.1 L539.2,223.2 L538.9,222.3 L538,220.6 L537.9,219.7 L537.6,218.9 L537.2,218.2 L536.7,217.5 L536,217 L535.3,216.6 L534.5,216.4 L533.6,216.3 L532.8,216.4 L532,216.7 L531.3,217.1 L530.6,217.6 L530.1,218.3 L529.7,219 L529.5,219.8 L529.4,220.7 L529.7,222.2ZM513.3,208.1 L510.1,208.1 L509.2,208.4 L508.5,208.8 L507.8,209.3 L507.3,210 L506.9,210.7 L506.7,211.5 L506.6,212.4 L506.7,213.2 L507,214 L507.4,214.7 L507.9,215.4 L508.6,215.9 L509.3,216.3 L510.8,216.6 L512.6,216.6 L514.1,216.3 L514.8,215.9 L515.5,215.4 L516,214.7 L516.5,213.9 L516.8,212.4 L516.7,211.5 L516.5,210.7 L516,209.9 L514.9,208.8 L514.2,208.4ZM501.5,203.7 L502.7,204.7 L503.4,205.1 L504.2,205.4 L505,205.5 L505.9,205.4 L506.7,205.2 L507.4,204.8 L508.1,204.3 L508.7,203.5 L509.1,202.8 L509.6,201.2 L509.7,200.4 L509.6,199.5 L509.4,198.7 L509,198 L508.5,197.3 L507.8,196.8 L507.1,196.4 L506.3,196.1 L505.5,196 L504,195.3 L503.2,195.1 L500.7,195 L499.9,195.1 L498.5,195.7 L497.8,196.2 L497.3,196.9 L496.9,197.6 L496.6,198.5 L496.6,200.1 L496.9,201 L497.7,202.3 L498.5,202.9 L499.9,203.5ZM477.2,179.4 L475,179.5 L474.2,179.8 L473.5,180.2 L472.8,180.7 L472.3,181.4 L471.9,182.1 L471.7,182.9 L471.6,183.8 L471.7,184.6 L472,185.4 L472.4,186.1 L472.9,186.8 L473.6,187.3 L474.3,187.7 L475.1,187.9 L476,188 L476.8,187.9 L477.6,187.6 L478.9,186.8 L479.4,186.1 L479.8,185.4 L480.3,183.9 L480.6,183.5 L481,183.3 L483.1,183.2 L483.9,183 L484.7,182.5 L485.9,181.6 L486.3,181.4 L486.8,181.4 L488,182 L488.9,182.3 L490.5,182.3 L491.3,182.1 L492.1,181.6 L493.2,180.5 L493.6,179.8 L494.1,178.6 L494.4,178.3 L494.8,178.1 L495.3,178 L497,178.6 L498.1,178.7 L498.9,178.6 L499.7,178.3 L500.4,177.9 L501.1,177.4 L501.6,176.7 L502,176 L502.3,174.5 L502.2,173.6 L501.9,172.7 L501.1,171.4 L500.4,170.9 L499.7,170.5 L498.9,170.2 L498.1,170.1 L497,170.2 L496.2,170.4 L495.4,170.9 L494.7,171.4 L494.2,172.1 L493.4,173.9 L493.1,174.2 L492.7,174.4 L492.2,174.5 L490.5,173.9 L489,173.8 L488.5,173.5 L488.2,173.1 L488,172.7 L488.1,172.2 L489.1,170.5 L489.5,168.5 L489.8,168.1 L490.2,167.8 L492.2,167.4 L493,166.9 L493.7,166.4 L494.2,165.7 L494.8,164.3 L494.9,163.5 L494.8,162.5 L494.5,161.7 L493.9,160.6 L493.9,160.2 L493.9,159.7 L494.5,158.6 L494.8,157.8 L494.9,157 L494.8,156.1 L494.6,155.3 L494.2,154.6 L493.7,153.9 L492.9,153.3 L492.2,152.9 L491.4,152.7 L490.5,152.6 L489.7,152.7 L488.9,153 L488.2,153.4 L487.5,153.9 L487,154.6 L486.4,156 L486.3,157 L486.6,158.5 L487.3,159.7 L487.3,160.2 L487.3,160.6 L486.6,161.8 L486.2,163.8 L485.9,164.2 L485.5,164.5 L484.2,164.7 L483.4,165 L482.7,165.4 L482,165.9 L481.5,166.6 L480.9,168 L480.8,169 L481.1,170.5 L481.6,171.3 L483,172.8 L483.1,173.3 L483.1,173.8 L482.8,174.3 L482.4,174.6 L480.6,175.1 L479.3,175.9 L478.8,176.6 L478.4,177.3 L477.9,178.8 L477.6,179.2ZM474.8,199.8 L475.3,200.5 L475.4,202 L475.6,202.8 L476.7,204.6 L476.7,205.1 L476.6,205.6 L475.2,207.1 L474.7,207.9 L474.4,209.4 L474.5,210.3 L474.7,211.1 L475.1,211.8 L475.6,212.5 L476.3,213 L477,213.4 L477.8,213.7 L478.6,213.8 L479.5,213.7 L480.3,213.5 L481,213.1 L481.8,212.5 L482.3,211.8 L482.9,210.4 L483,209.6 L482.9,208.6 L482.6,207.8 L481.6,206.1 L481.6,205.6 L481.7,205.1 L482.7,204.2 L483.5,202.9 L483.8,202 L483.8,200.4 L483.5,199.5 L482.7,198.2 L481.9,197.6 L480.7,197 L480.4,196.7 L480.2,196.3 L480.1,194.7 L479.8,193.9 L479.4,193.2 L478.3,192.1 L477.6,191.7 L476.8,191.4 L476,191.3 L475.1,191.4 L474.3,191.6 L473.6,192 L472.9,192.5 L472.4,193.2 L472,193.9 L471.7,194.7 L471.6,195.5 L471.7,196.4 L471.9,197.2 L472.3,197.9 L472.8,198.6 L473.5,199.1ZM466.5,236.6 L465.6,236.5 L464.8,236.6 L464,236.9 L463.3,237.3 L462.6,237.8 L462.1,238.5 L461.7,239.2 L461.5,240 L461.4,240.9 L461.5,241.7 L461.8,242.5 L462.2,243.2 L462.7,243.9 L463.4,244.4 L464.1,244.8 L464.9,245 L465.8,245.1 L466.6,245 L467.4,244.7 L468.1,244.3 L468.8,243.8 L469.3,243.1 L469.7,242.4 L469.9,241.6 L470,240.7 L469.9,239.9 L469.6,239.1 L469.2,238.4 L468.7,237.7 L468,237.2 L467.3,236.8ZM443.5,141.6 L442.6,141.5 L441.8,141.6 L441,141.9 L440.3,142.3 L439.6,142.8 L439.1,143.5 L438.7,144.2 L438.5,145 L438.4,145.9 L438.5,146.7 L438.8,147.5 L439.2,148.2 L439.7,148.9 L440.4,149.4 L441.1,149.8 L441.9,150 L442.8,150.1 L443.6,150 L444.4,149.7 L445.1,149.3 L445.8,148.8 L446.3,148.1 L446.7,147.4 L446.9,146.6 L447,145.7 L446.9,144.9 L446.6,144.1 L446.2,143.4 L445.7,142.7 L445,142.2 L444.3,141.8ZM426.9,167.5 L426,167.4 L425.2,167.5 L424.4,167.8 L423.7,168.2 L423,168.7 L422.5,169.4 L422.1,170.1 L421.9,170.9 L421.8,171.8 L421.9,172.6 L422.2,173.4 L422.6,174.1 L423.1,174.8 L423.8,175.3 L424.5,175.7 L425.3,175.9 L426.2,176 L427,175.9 L427.8,175.6 L428.5,175.2 L429.2,174.7 L429.7,174 L430.1,173.3 L430.3,172.5 L430.4,171.6 L430.3,170.8 L430,170 L429.6,169.3 L429.1,168.6 L428.4,168.1 L427.7,167.7ZM387.6,249.3 L386.5,250.6 L386.1,251.3 L385.8,252.2 L385.7,253.1 L386,254.6 L386.4,255.3 L387,256.1 L388.3,256.9 L389.2,257.2 L390.8,257.2 L391.6,257 L392.3,256.6 L393.4,255.8 L393.8,255.7 L394.3,255.8 L394.7,256 L395.7,257.4 L396.5,258 L397.9,258.6 L398.9,258.7 L399.7,258.6 L401.1,258 L401.9,257.4 L402.7,256.1 L403,255.2 L403.1,254.3 L402.8,252.8 L402.4,252.1 L401.9,251.4 L401.2,250.9 L399.3,250 L399,249.5 L398.9,247.5 L398.6,246.6 L397.8,245.3 L397.1,244.8 L396.4,244.4 L395.5,244.1 L393.9,244.1 L392.6,244.6 L390.4,245 L389.7,245.4 L388.9,246 L388.1,247.3ZM358.7,459 L358.8,459.5 L358.6,461.1 L358.7,462 L359,462.8 L359.9,464.3 L359.9,464.8 L359.1,466.8 L359.1,467.6 L359.1,468.6 L359.7,470 L360.3,470.7 L360.9,471.2 L362.2,472 L362.5,472.5 L362.6,473.9 L362.8,474.8 L363.2,475.5 L363.8,476.2 L364.5,476.8 L365.3,477.2 L366.1,477.4 L366.9,477.5 L368.4,477.2 L369.6,476.6 L370,476.5 L371.5,476.9 L372.4,477 L373.2,476.9 L374.6,476.3 L376.2,474.8 L376.7,474.6 L378.8,474.9 L379.4,475.5 L379.9,476.7 L379.6,478.4 L379.7,479.2 L379.9,480 L380.3,480.8 L380.9,481.4 L381.6,482 L382.4,482.4 L383.2,482.7 L384.7,482.7 L385.6,482.4 L386.4,482 L387.5,480.9 L387.9,480 L388.2,478.5 L388.1,477.5 L387.6,476 L387.7,475.4 L388.5,474.3 L388.9,473.5 L389.3,471.3 L389.7,470.9 L391.1,470.2 L391.7,469.7 L392.9,468.2 L394.6,467.7 L395.9,466.8 L396.4,466.2 L396.8,465.4 L397.1,464.5 L397.1,463 L396.9,462.1 L396.5,461.4 L396,460.7 L395.2,460.1 L394.5,459.7 L393.7,459.5 L392.2,459.4 L391.7,459 L391,457.8 L390.9,457.3 L390.9,456.8 L391.7,455.3 L391.9,454.5 L392,453.7 L391.9,452.9 L391.7,452.1 L390.8,450.8 L390.2,450.2 L389.4,449.8 L387.3,449.3 L386.9,449 L386.2,447.4 L385.1,446.3 L384.3,445.9 L383.5,445.7 L381.9,445.5 L381.4,445.2 L380.7,443.9 L380.1,443.1 L378.8,442.3 L377.9,442 L376.3,442 L375.5,442.2 L374.7,442.6 L374.1,443.1 L373.5,443.8 L373.1,444.5 L372.6,446.6 L372.3,447 L370.9,447.7 L370.2,448.2 L369.2,449.4 L368.7,449.7 L367.2,449.6 L365.6,449.9 L364.8,450.3 L363.7,451.2 L363.1,451.3 L361.6,450.9 L360.7,450.8 L359.9,450.9 L358.5,451.5 L357.8,452 L357.2,452.7 L356.8,453.5 L356.6,454.3 L356.6,455.9 L356.9,456.8 L357.3,457.5ZM386.3,433.7 L385.5,433.8 L384.7,434.1 L384,434.5 L383.3,435 L382.8,435.7 L382.4,436.4 L382.2,437.2 L382.1,438.1 L382.2,438.9 L382.5,439.7 L382.9,440.4 L383.4,441.1 L384.1,441.6 L384.8,442 L385.6,442.2 L386.5,442.3 L387.3,442.2 L388.1,441.9 L388.8,441.5 L389.5,441 L390,440.3 L390.4,439.6 L390.6,438.8 L390.7,437.9 L390.6,437.1 L390.3,436.3 L389.9,435.6 L389.4,434.9 L388.7,434.4 L388,434 L387.2,433.8ZM349.7,431.5 L348.8,431.4 L348,431.5 L347.2,431.8 L346.5,432.2 L345.8,432.7 L345.3,433.4 L344.9,434.1 L344.7,434.9 L344.6,435.8 L344.7,436.6 L345,437.4 L345.4,438.1 L345.9,438.8 L346.6,439.3 L347.3,439.7 L348.1,439.9 L349,440 L349.8,439.9 L350.6,439.6 L351.3,439.2 L352,438.7 L352.5,438 L352.9,437.3 L353.1,436.5 L353.2,435.6 L353.1,434.8 L352.8,434 L352.4,433.3 L351.9,432.6 L351.2,432.1 L350.5,431.7ZM341.4,186.2 L339.3,185.9 L338.5,186 L337.7,186.3 L337,186.7 L336.3,187.2 L335.8,187.9 L335.4,188.6 L335.2,189.4 L335.1,190.3 L335.2,191.1 L335.5,191.9 L335.9,192.6 L336.4,193.3 L337.1,193.8 L337.8,194.2 L338.6,194.4 L340.2,194.4 L341.1,194.1 L342.4,193.3 L343,192.5 L343.4,191.8 L343.7,190.3 L343.6,189.3 L342.9,187.5 L343,187 L343.2,186.5 L343.6,186.2 L344.1,186.1 L346,186.4 L346.9,186.3 L347.7,186.1 L348.5,185.6 L349.6,184.5 L350.1,183.7 L350.4,182.2 L350.3,181.2 L349.7,179.8 L349.2,179.1 L348.5,178.6 L347.8,178.2 L347,177.9 L346.2,177.8 L345.3,177.9 L344.5,178.1 L343.8,178.5 L343,179.1 L342.5,179.8 L342.1,180.5 L341.9,181.3 L341.9,182.9 L342.6,184.8 L342.5,185.3 L342.3,185.8 L341.9,186.1ZM314.5,528.9 L314.5,529.4 L313.8,531.2 L313.7,532.1 L313.8,533 L314,533.8 L314.5,534.6 L315,535.2 L315.7,535.8 L317.4,536.5 L317.7,536.9 L318.1,538.7 L318.5,539.5 L319.1,540.1 L319.7,540.7 L320.5,541.1 L321.4,541.4 L322.2,541.4 L323.7,541.1 L324.6,540.7 L326.1,539.2 L327.9,538.7 L329.1,537.9 L329.8,537.1 L330.5,535.4 L330.9,535.1 L332.9,534.6 L333.6,534.2 L334.3,533.6 L334.8,533 L335.4,531.6 L335.5,530.7 L335.4,529.9 L335,528.5 L335.1,528 L336,526.4 L336.3,526 L336.7,525.7 L337.1,525.6 L339,525.9 L339.9,525.8 L341.4,525.2 L342.1,524.6 L343,523.3 L343.1,522.8 L344,521.3 L344.3,520.5 L344.4,519.5 L344.1,518 L343.6,517.2 L342.5,516.1 L341.3,515.5 L339.4,514.3 L338.5,514 L337.7,513.9 L336.1,514.2 L335.4,514.6 L334.7,515.1 L333.9,516.1 L333.3,516.4 L332.8,516.4 L332.3,516.3 L331.5,515.3 L331.4,514.8 L331.7,513.5 L331.8,512.6 L331.7,511.7 L331.5,510.9 L331.1,510.1 L330,509 L329.2,508.6 L328.4,508.4 L327.5,508.3 L325.9,508.6 L325.1,509 L324,510 L323.6,510.2 L322.1,510.3 L321.3,510.5 L320.1,511.2 L319.6,511.2 L318,510.6 L317.2,510.5 L316.4,510.6 L315.5,510.8 L314.7,511.3 L313.6,512.4 L313.1,513.3 L312.8,514.8 L312.9,515.7 L313.2,516.5 L313.6,517.3 L314.7,518.4 L315.8,519.1 L316.1,519.5 L316.2,521.6 L316,522.1 L314.8,523 L314.3,523.6 L313.9,524.4 L313.6,525.3 L313.5,526.1 L313.6,527 L313.9,527.8ZM322.1,468.8 L322.5,469.5 L323.1,470.2 L323.7,470.7 L325.1,471.3 L325.4,471.7 L325.6,472.1 L325.7,474 L325.9,474.8 L326.3,475.5 L326.9,476.1 L327.5,476.7 L328.3,477 L329.1,477.3 L330.6,477.3 L332.3,476.7 L332.8,476.8 L334.5,477.8 L335.4,478.1 L336.9,478.1 L337.9,477.8 L338.6,477.4 L339.7,476.3 L340.6,474.4 L341.5,473.6 L342.2,471.6 L342.2,470 L341.9,469.1 L341,467.8 L339.5,466.7 L339.2,466.2 L339.2,464.4 L338.9,463.6 L338.5,462.9 L337.9,462.1 L336.6,461.3 L335.8,461 L335,460.9 L334.2,461 L333.4,461.2 L332.1,461.9 L331.6,462 L331.2,461.9 L330.8,461.7 L330,460.7 L329.3,460.1 L328.6,459.7 L327.7,459.4 L326.1,459.4 L325.2,459.7 L324.5,460.1 L323.2,461.2 L322.3,461.7 L321.6,462.2 L321.1,462.9 L320.5,464.3 L320.4,465.2 L320.5,466 L320.7,466.8 L321.1,467.6ZM324.9,488.9 L325.2,490.9 L325.1,491.4 L324.8,491.8 L323.4,492.5 L322.7,493 L322.1,493.8 L321.7,494.5 L321.5,495.3 L321.4,496.2 L321.5,497 L321.8,497.8 L322.2,498.5 L323.3,499.6 L324,500 L326.1,500.8 L326.4,501.2 L326.9,502.4 L327.3,503.1 L327.8,503.8 L328.5,504.3 L329.9,504.9 L330.7,505 L331.7,504.9 L332.5,504.6 L333.2,504.2 L334.3,503.1 L334.7,502.4 L335,501.6 L335.1,500.8 L335,499.9 L334.7,498.5 L335.2,497 L335.3,496.1 L336.1,495 L336.7,493.6 L336.8,492.6 L336.7,491.8 L336.4,491 L336,490.3 L335.5,489.6 L333.8,488.5 L333.5,488.1 L333,486.5 L332.2,485.2 L331.5,484.7 L330.8,484.3 L329.9,484 L328.3,484 L327.5,484.2 L326.8,484.6 L326.1,485.1 L325.5,485.9 L325.1,486.6 L324.9,487.4ZM277.7,351.2 L277,351.6 L275.9,352.7 L275.5,353.4 L275.2,354.2 L275.1,355 L275.2,356 L275.5,356.8 L275.9,357.5 L276.4,358.2 L277.1,358.7 L278.6,359.3 L280.2,360.3 L281,360.5 L281.9,360.6 L283.8,360.3 L284.3,360.4 L284.7,360.7 L285.4,362.2 L285.9,362.9 L286.7,363.5 L288.2,364.3 L288.5,364.7 L288.6,365.3 L288.5,365.8 L287.2,367.3 L286.8,368 L286.6,368.8 L286.5,369.7 L286.6,370.5 L286.9,371.3 L287.3,372 L287.8,372.7 L288.5,373.2 L289.2,373.6 L290,373.8 L290.9,373.9 L291.7,373.8 L292.5,373.5 L293.2,373.1 L294.3,372 L294.7,371.3 L295,370.4 L295.2,369 L295.5,368.5 L296.9,367.7 L297.6,367.2 L298.1,366.5 L298.7,365.1 L298.8,363.3 L299,362.8 L300.6,361.7 L301.4,360.4 L301.7,359.5 L301.7,357.9 L301.4,357 L301,356.3 L300.5,355.6 L299.8,355.1 L298.4,354.5 L297.6,354.4 L296.6,354.5 L295.2,355.1 L294.4,355.7 L293.5,356.8 L293,357 L292.4,357 L290.7,356 L289.8,355.7 L288.9,355.6 L287,355.9 L286.5,355.8 L286.1,355.5 L285.4,354 L284.9,353.3 L284.2,352.8 L283.5,352.4 L282.6,352.1 L281.1,351.2 L280.3,350.9 L279.3,350.8 L278.5,350.9ZM285,412.5 L284.1,412.4 L283.3,412.5 L282.5,412.8 L281.8,413.2 L281.1,413.7 L280.6,414.4 L280.2,415.1 L280,415.9 L279.9,416.8 L280,417.6 L280.3,418.4 L280.7,419.1 L281.2,419.8 L281.9,420.3 L282.6,420.7 L283.4,420.9 L284.3,421 L285.1,420.9 L285.9,420.6 L286.6,420.2 L287.3,419.7 L287.8,419 L288.2,418.3 L288.4,417.5 L288.5,416.6 L288.4,415.8 L288.1,415 L287.7,414.3 L287.2,413.6 L286.5,413.1 L285.8,412.7ZM235.9,412.1 L236.5,413.4 L237.6,414.5 L238.8,415.1 L240.8,416.4 L241.6,416.7 L242.4,416.8 L243.3,416.7 L244.1,416.5 L244.8,416.1 L245.5,415.6 L246,414.9 L246.4,414.2 L246.7,413.4 L246.8,412.6 L246.7,411.7 L246.5,410.9 L246.1,410.2 L245.6,409.5 L244.8,408.9 L243.7,408.4 L242.9,407.8 L242.4,407.2 L241.8,405.9 L240.7,404.8 L239.9,404.3 L238.4,404 L237.4,404.1 L236,404.7 L235.3,405.2 L234.8,405.9 L234.3,406.7 L234,408.2 L234.1,409.2 L234.7,410.6ZM188.4,210.7 L187.5,210.6 L186.7,210.7 L185.9,211 L185.2,211.4 L184.5,211.9 L184,212.6 L183.6,213.3 L183.4,214.1 L183.3,215 L183.4,215.8 L183.7,216.6 L184.1,217.3 L184.6,218 L185.3,218.5 L186,218.9 L186.8,219.1 L187.7,219.2 L188.5,219.1 L189.3,218.8 L190,218.4 L190.7,217.9 L191.2,217.2 L191.6,216.5 L191.8,215.7 L191.9,214.8 L191.8,214 L191.5,213.2 L191.1,212.5 L190.6,211.8 L189.9,211.3 L189.2,210.9ZM167.6,165.6 L166.7,165.5 L165.9,165.6 L165.1,165.9 L164.4,166.3 L163.7,166.8 L163.2,167.5 L162.8,168.2 L162.6,169 L162.5,169.9 L162.6,170.7 L162.9,171.5 L163.3,172.2 L163.8,172.9 L164.5,173.4 L165.2,173.8 L166,174 L166.9,174.1 L167.7,174 L168.5,173.7 L169.2,173.3 L169.9,172.8 L170.4,172.1 L170.8,171.4 L171,170.6 L171.1,169.7 L171,168.9 L170.7,168.1 L170.3,167.4 L169.8,166.7 L169.1,166.2 L168.4,165.8ZM115,205.8 L114.1,205.7 L113.3,205.8 L112.5,206.1 L111.8,206.5 L111.1,207 L110.6,207.7 L110.2,208.4 L110,209.2 L109.9,210.1 L110,210.9 L110.3,211.7 L110.7,212.4 L111.2,213.1 L111.9,213.6 L112.6,214 L113.4,214.2 L114.3,214.3 L115.1,214.2 L115.9,213.9 L116.6,213.5 L117.3,213 L117.8,212.3 L118.2,211.6 L118.4,210.8 L118.5,209.9 L118.4,209.1 L118.1,208.3 L117.7,207.6 L117.2,206.9 L116.5,206.4 L115.8,206ZM102.5,176 L101.6,175.9 L100.8,176 L100,176.3 L99.3,176.7 L98.6,177.2 L98.1,177.9 L97.7,178.6 L97.5,179.4 L97.4,180.3 L97.5,181.1 L97.8,181.9 L98.2,182.6 L98.7,183.3 L99.4,183.8 L100.1,184.2 L100.9,184.4 L101.8,184.5 L102.6,184.4 L103.4,184.1 L104.1,183.7 L104.8,183.2 L105.3,182.5 L105.7,181.8 L105.9,181 L106,180.1 L105.9,179.3 L105.6,178.5 L105.2,177.8 L104.7,177.1 L104,176.6 L103.3,176.2Z" fill="#0000ff" fill-rule="evenodd"/>
<path d="M466.1,372.2 L466.5,372.3 L467.8,373.2 L468.2,373.6 L468.5,374.2 L468.3,375.8 L468.6,377.3 L469.1,378.2 L470.2,379.5 L470.3,380 L469.8,381.6 L469.7,382.6 L469.8,383.4 L470.4,384.8 L470.9,385.5 L471.7,386.1 L472.4,386.5 L474,386.9 L474.3,387.2 L475.4,388.8 L476.2,389.4 L476.9,389.8 L478.4,390.1 L480.4,389.8 L482.5,390.7 L483.3,390.8 L484.3,390.7 L486.1,390 L487.3,389.9 L488.2,389.6 L489.5,388.8 L490.4,387.6 L490.8,387.4 L491.3,387.3 L492.7,387.4 L493.5,387.3 L494.3,387.1 L495,386.7 L495.7,386.1 L496.2,385.5 L496.6,384.7 L496.8,383.9 L496.9,383.1 L496.8,382.2 L496.3,380.7 L496.3,380.2 L497.5,378.4 L497.7,377.6 L497.8,376.8 L497.7,375.8 L497.1,374.4 L496.6,373.7 L495.8,373.1 L495.1,372.7 L493.7,372.3 L493.3,371.9 L492.8,370.4 L492.4,369.5 L491.3,368.4 L490,367.7 L489.8,367.2 L489.7,365.4 L489.4,364.6 L489,363.9 L488.5,363.2 L487.8,362.6 L487,362.2 L486.2,362 L484.6,361.9 L484.2,361.6 L483.4,360.3 L482.9,359.7 L482.2,359 L481.4,358.7 L480.6,358.4 L479.1,358.4 L478.1,358.7 L477.4,359.1 L476.8,359.7 L476.2,360.3 L475.8,361.1 L475.4,362.6 L475.1,363 L473.4,363.8 L471.9,365.2 L471.4,365.4 L468.8,365.2 L467.5,364.1 L466.2,363.4 L465.6,362.9 L464.9,362.5 L464,362.3 L462.5,362.3 L461.7,362.5 L460.9,362.9 L460.3,363.4 L459.7,364.1 L459.3,364.8 L459,365.7 L459,366.6 L459.1,367.4 L459.7,368.8 L461.6,371.1 L462.9,372 L463.7,372.3 L464.5,372.4ZM471.2,232 L470.3,231.9 L469.5,232 L468.7,232.3 L468,232.7 L467.3,233.2 L466.8,233.9 L466.4,234.6 L466.2,235.4 L466.1,236.3 L466.2,237.1 L466.5,237.9 L466.9,238.6 L467.4,239.3 L468.1,239.8 L468.8,240.2 L469.6,240.4 L470.5,240.5 L471.3,240.4 L472.1,240.1 L472.8,239.7 L473.5,239.2 L474,238.5 L474.4,237.8 L474.6,237 L474.7,236.1 L474.6,235.3 L474.3,234.5 L473.9,233.8 L473.4,233.1 L472.7,232.6 L472,232.2ZM292.4,221.5 L292.7,221.9 L293,223.3 L293.2,224.1 L293.6,224.9 L294.7,226 L296.4,226.8 L296.8,227.2 L297.2,229 L297.6,229.8 L298.1,230.4 L298.8,231 L299.6,231.4 L300.4,231.7 L302.3,231.7 L302.8,232 L303.8,233.2 L304.4,233.8 L305.2,234.1 L306.7,234.4 L308,234.4 L308.5,234.6 L309.6,235.9 L310.2,236.4 L311,236.8 L311.8,237.1 L312.6,237.1 L314.8,236.7 L315.4,236.8 L316.4,237.6 L317.3,238.1 L318.1,238.3 L318.9,238.4 L320.9,238.1 L321.4,238.2 L322.6,239.4 L323.4,239.8 L324.3,240 L325.9,240.1 L326.4,240.4 L327.6,242.1 L328.3,242.6 L330,243.4 L330.3,243.8 L330.8,245.4 L331.2,246.3 L331.8,246.9 L333.4,248.1 L333.6,248.5 L333.7,250.2 L333.9,251 L334.3,251.8 L334.8,252.4 L335.6,253 L336.3,253.4 L337.1,253.7 L338.7,253.8 L339.1,254 L340.3,255.7 L341,256.2 L341.7,256.6 L342.5,256.8 L344.1,256.8 L346.1,256 L346.6,256.1 L348.1,256.9 L348.9,257.1 L349.7,257.2 L351.3,256.9 L352.7,256 L353.2,256 L355.2,256.8 L356.2,256.9 L357.7,256.6 L358.9,256 L359.5,256 L360.7,256.7 L361.5,256.9 L362.5,257 L363.3,256.9 L364.8,256.3 L366.4,254.8 L366.8,254.7 L368.3,254.9 L369.2,254.8 L371.1,254.1 L371.6,254.1 L374.9,255.9 L375.7,256.1 L376.5,256.2 L378.1,255.9 L378.9,255.4 L380,254.3 L380.5,253.5 L380.8,251.9 L380.8,250 L380.5,248.5 L380.1,247.7 L379.5,247 L378.2,246.1 L377.2,245.9 L375.3,245.8 L374.5,245.4 L373.9,244.4 L373.4,243.7 L372.7,243.2 L371.5,242.5 L371.2,242.1 L370.8,240 L370.4,239.2 L369.9,238.5 L369.2,237.9 L367.3,237.1 L367,236.7 L366.5,235.1 L365.5,233.5 L365.4,232.9 L365.9,231.6 L366,230.7 L365.9,229.9 L365.6,228.9 L365.2,228.2 L364.7,227.6 L364,227 L362.4,226.3 L362.1,225.9 L361.6,224.2 L361.2,223.5 L360.7,222.8 L360,222.3 L359.3,221.9 L358.5,221.7 L357.6,221.6 L356.1,221.9 L354.7,222.7 L354.2,222.8 L352.4,222.1 L351.4,222 L349.9,222.3 L348.5,222.9 L348,222.9 L347.6,222.7 L347.2,222.4 L347,221.9 L347.1,220.5 L347,219.7 L346.4,218.3 L345.9,217.6 L345.1,217 L344.4,216.6 L343.6,216.4 L342,216.4 L341.1,216.7 L339.8,217.5 L339.2,218.3 L338.6,219.7 L338.5,220.5 L338.6,221.5 L338.9,222.3 L339.9,223.9 L339.9,224.4 L339.8,224.8 L339.6,225.2 L339.2,225.5 L337.1,226 L336.6,225.8 L334.9,224.5 L334.7,224 L334.6,221.8 L334,220.4 L333.4,219.6 L332.8,219.1 L331.3,218.5 L330.4,218.4 L328.6,218.7 L328.1,218.6 L326.6,217.1 L326.5,216.7 L326.5,216.2 L326.6,215.8 L327,215.4 L328.3,214.7 L329.4,213.6 L329.9,212.8 L330.2,211.3 L330.1,210.3 L329.5,208.9 L329,208.2 L328.3,207.7 L327.5,207.2 L326,206.9 L325.1,207 L324.3,207.2 L323.5,207.7 L322.8,208.2 L322.3,208.9 L321.9,209.6 L321.7,210.4 L321.6,211.3 L321.7,212.1 L322.3,213.5 L323.6,214.9 L323.7,215.4 L323.7,215.9 L323.6,216.3 L323.3,216.6 L321.6,217.3 L321.1,217.3 L319.6,216.3 L318.7,216.1 L317.1,216.1 L315.6,216.6 L315.1,216.5 L313.3,215.4 L312.4,215.1 L311.5,215 L310.7,215.1 L309.9,215.4 L308.7,216 L308.1,216 L306.1,215.1 L304.2,215 L303.8,214.8 L302.7,213.4 L302.1,212.8 L301.2,212.4 L300.4,212.1 L298.9,212.1 L298.1,212.4 L296.3,213.4 L295.8,213.5 L294.5,213 L293.6,212.9 L292.8,213 L292,213.2 L291.1,213.7 L290.5,214.2 L289.9,214.9 L289.4,216.3 L289.3,217.3 L289.6,218.8 L290,219.7 L291.1,220.8ZM297,48.7 L295.7,49.1 L294.9,49.5 L294.2,50.1 L293.6,50.8 L293.3,51.5 L293,53.1 L293,53.9 L293.3,54.8 L294.2,56.1 L294.8,56.7 L295.5,57.1 L296.3,57.3 L297.2,57.4 L298.6,57.3 L299.1,57.5 L300,58.6 L300.8,59.2 L302.2,59.8 L303.5,60 L304,60.3 L304.8,62 L306.2,63.5 L306.4,64 L306.2,65.7 L306.5,67.2 L306.8,68 L307.4,68.6 L308.5,69.6 L308.8,70.2 L308.6,71.6 L308.7,72.5 L309.3,74 L309.9,74.7 L310.6,75.2 L311.4,75.6 L313.4,76 L313.8,76.4 L314.6,77.9 L315.1,78.6 L315.7,79.1 L316.6,79.6 L317.4,79.8 L318.2,79.9 L319.1,79.8 L320.3,79.4 L320.8,79.4 L322.4,80.4 L323.3,80.6 L324.1,80.7 L325.6,80.4 L327.4,79.3 L327.9,79.2 L329.4,79.7 L330.9,80 L331.3,80.3 L332,81.7 L332.6,82.4 L333.9,83.3 L334.9,83.6 L335.7,83.7 L336.5,83.6 L337.3,83.3 L338.7,82.5 L339.2,82.5 L341,83.2 L341.9,83.3 L342.8,83.2 L344.7,82.6 L346.3,83 L347.8,83 L348.8,82.7 L350.1,81.9 L350.7,81.1 L351.3,79.7 L351.4,78.7 L351.2,77.3 L351.4,76.8 L352.6,75.8 L353.1,75.1 L353.5,74.4 L353.9,72.7 L354.2,72.3 L356,71.5 L356.7,71 L357.3,70.2 L358,69 L358.4,68.7 L359.7,68.5 L360.5,68.3 L361.8,67.4 L362.4,66.7 L362.8,65.9 L363.1,64.4 L362.8,62.3 L362.9,61.8 L364.1,60.5 L364.5,59.7 L364.7,58.9 L364.8,58.1 L364.5,56.6 L364.1,55.8 L363.6,55.2 L362.8,54.5 L362.1,54.2 L360,53.7 L359,52.7 L358.8,52.2 L359,50.7 L358.9,49.9 L358.7,48.9 L358,47.7 L357.9,47.2 L358.4,45.7 L358.4,44.2 L358.2,43.4 L357.8,42.6 L356.5,41.2 L356.3,40.7 L356.6,38.9 L356.5,38 L356.3,37.2 L355.8,36.4 L354.8,35.3 L353.9,34.8 L353.1,34.6 L352.3,34.5 L351.4,34.6 L350.2,35 L349.7,34.9 L348.1,33.9 L346.6,33.4 L346.2,33 L345.7,31.6 L345.3,30.9 L344.7,30.2 L343.2,29.1 L342.9,28.8 L342.6,27.1 L342.1,26.2 L341.6,25.6 L340.9,25.1 L340.1,24.7 L339.3,24.4 L337.8,24.4 L336.9,24.7 L335.6,25.6 L335,26.3 L334.6,27.1 L334.3,28.6 L334.4,29.6 L334.8,30.8 L334.7,31.3 L333.6,33.1 L333.3,34 L333.3,34.8 L333.5,36.4 L333.3,36.9 L331.9,38.4 L331.1,39.9 L330.7,40.2 L328.9,40.7 L327.1,41.9 L326.5,42 L325.1,41.5 L324.2,41.4 L322.5,41.6 L322,41.5 L320.7,40.3 L319.8,39.9 L318.3,39.6 L317.4,39.7 L315.9,40.3 L315.3,40.8 L314.7,41.4 L314.3,42.3 L313.8,44.1 L313.5,44.5 L311.8,45.3 L310.5,46.5 L309.9,46.6 L308.6,46.3 L307.8,46.2 L306.9,46.3 L305.6,46.7 L305.1,46.6 L304,45.7 L303.2,45.3 L301.7,45 L300.9,45.1 L299.9,45.4 L298.7,46.2 L298,47 L297.3,48.4ZM352.5,47.4 L352.8,47.9 L352.9,48.5 L352.7,49.3 L352.3,49.7 L351.9,50 L351.3,50 L350.9,49.7 L350.4,49.1 L350.3,48.5 L350.4,47.9 L350.7,47.4 L351.1,47.1 L351.6,47 L352.1,47.1ZM337,59.8 L336.8,61.4 L336.1,63 L335.3,64.1 L335,64.3 L334.5,64.3 L334.3,64.2 L334,63.6 L334,62.7 L334.4,61.1 L334.9,60 L335.4,59.2 L336.3,58.7 L336.7,58.8ZM328.2,73.3 L328.5,74 L328.4,74.5 L328.1,74.8 L327.6,75.1 L327,75.2 L326.4,75.1 L325.8,74.7 L325.5,74.2 L325.5,73.8 L325.8,73.3 L326.4,72.9 L327.3,72.8 L327.8,73ZM355.6,208.1 L354.8,207.9 L353.9,207.8 L353.1,207.9 L352.3,208.2 L351.6,208.6 L350.9,209.1 L350.4,209.8 L350,210.5 L349.8,211.3 L349.7,212.2 L349.8,213 L350.1,213.8 L350.5,214.5 L351,215.2 L351.7,215.7 L352.4,216.1 L353.2,216.3 L354.1,216.4 L354.9,216.3 L355.7,216 L356.4,215.6 L357.1,215.1 L357.6,214.4 L358,213.7 L358.2,212.9 L358.3,212 L358.2,211.2 L357.9,210.4 L357.5,209.7 L357,209 L356.3,208.5ZM351.3,180.6 L348.6,181.5 L347.8,182 L347.1,182.5 L346.3,183.8 L346,184.7 L345.9,185.6 L346.2,187.1 L346.7,187.9 L347.2,188.6 L347.9,189.1 L348.6,189.5 L350.1,189.8 L351,189.7 L351.8,189.5 L352.4,189.2 L353.8,188.8 L354.6,188.3 L355.3,187.8 L355.8,187.1 L356.2,186.4 L356.4,185.6 L356.5,184.7 L356.4,183.9 L356.1,183.1 L355.7,182.4 L355.2,181.7 L354.5,181.2 L353.8,180.8 L353,180.6 L352.1,180.5ZM178.5,202.6 L177.6,202.5 L176.8,202.6 L176,202.9 L175.3,203.3 L174.6,203.8 L174.1,204.5 L173.7,205.2 L173.5,206 L173.4,206.9 L173.5,207.7 L173.8,208.5 L174.2,209.2 L174.7,209.9 L175.4,210.4 L176.1,210.8 L176.9,211 L177.8,211.1 L178.6,211 L179.4,210.7 L180.1,210.3 L180.8,209.8 L181.3,209.1 L181.7,208.4 L181.9,207.6 L182,206.7 L181.9,205.9 L181.6,205.1 L181.2,204.4 L180.7,203.7 L180,203.2 L179.3,202.8Z" fill="#ff4500" fill-rule="evenodd"/>
<path d="M1090.1,69.6 L1089,70.3 L1088.3,71.5 L1088.1,72.7 L1088.1,73.4 L1088.6,74.6 L1089.6,75.5 L1090.8,76.1 L1092.2,76.1 L1093.5,75.5 L1093.9,75.6 L1094.4,76.1 L1094.3,76.6 L1093.9,77.7 L1093.8,78.3 L1094,79.7 L1092.6,80.7 L1092.2,81.3 L1091.8,81.9 L1091.6,83.2 L1091.9,84.5 L1092.9,86.1 L1092.2,87.7 L1092.2,89.1 L1092.8,90.3 L1093.2,90.8 L1094.3,91.6 L1094.4,91.9 L1094.1,93.4 L1094.3,94.7 L1094.7,95.3 L1095.1,95.8 L1096.2,96.5 L1096.9,96.7 L1098.2,96.9 L1098.9,98.1 L1099.3,98.6 L1100.4,99.4 L1101.1,99.6 L1102.3,99.6 L1104.1,98.9 L1105.6,99.9 L1106.8,100.2 L1107.1,100.5 L1107.2,102 L1107.4,102.7 L1108.1,103.8 L1109.2,104.5 L1109.9,104.7 L1111.1,104.8 L1112.1,105.3 L1113.4,105.6 L1114.1,105.5 L1115.3,105 L1116.2,104.1 L1116.5,103.5 L1116.8,102.2 L1116.7,101.1 L1117.1,100.2 L1117.4,98.9 L1117.7,98.7 L1119,98.3 L1120.1,97.6 L1120.8,96.5 L1121.1,95.2 L1120.8,93.9 L1120.5,93.3 L1119.5,92.1 L1119.9,90.3 L1119.7,89 L1118.9,87.9 L1117.7,86.9 L1118,85.3 L1117.9,84.6 L1117.4,83.5 L1116.5,82.3 L1116.8,80.5 L1116.6,79.2 L1115.9,78.1 L1114.6,77.2 L1114.5,77 L1114.5,75.4 L1113.9,74.2 L1113,73.3 L1111.8,72.8 L1110.5,72.8 L1109.9,73 L1108.5,73.8 L1108.3,73.8 L1107.3,73.2 L1106.6,73 L1104.8,73 L1103.7,71.3 L1102.6,70.6 L1101.9,70.4 L1100.6,70.4 L1099.3,70.9 L1099.1,70.8 L1097.8,70 L1097.1,69.8 L1095.7,69.8 L1094.3,70.4 L1093.8,70.3 L1092.8,69.6 L1092.1,69.4 L1090.8,69.4ZM1104.7,79.7 L1104.8,81.3 L1104.2,82.8 L1103.6,83.5 L1103.2,83.7 L1102.5,83.8 L1101.9,83.4 L1101.4,82.7 L1101.2,81.8 L1101.4,80.2 L1101.8,79.2 L1102.4,78.5 L1102.8,78.3 L1103.5,78.2 L1104.1,78.6 L1104.6,79.3ZM1027.4,55.8 L1026.1,56.1 L1025,56.8 L1024.3,57.9 L1024,59.2 L1024.3,60.5 L1025,61.6 L1025.5,62 L1026.6,62.5 L1027.2,63.3 L1027.7,63.7 L1029,64.2 L1030.2,64.2 L1030.9,64 L1031.5,63.7 L1032.3,63 L1032.7,62.9 L1033.1,63.1 L1033.7,64.5 L1034.6,65.4 L1035.9,65.9 L1036.5,66 L1037.8,65.9 L1039.1,67.1 L1039.7,67.4 L1040.8,67.7 L1041.9,68.9 L1043.1,69.4 L1043.8,69.5 L1045.1,69.2 L1046.2,68.5 L1046.6,68 L1046.9,67.4 L1047.2,66.1 L1047.1,65.4 L1046.6,64.2 L1045.7,63.3 L1045.1,63 L1044,62.7 L1042.9,61.5 L1041.6,61 L1041,60.9 L1039.7,61 L1038.4,59.8 L1037.2,59.3 L1036.5,59.2 L1035.2,59.5 L1034.6,59.8 L1033.8,60.5 L1033.4,60.6 L1033,60.4 L1032.4,59 L1031.5,58.1 L1030.4,57.6 L1029.8,56.8 L1029.3,56.4 L1028.1,55.9ZM1020.5,43.3 L1019.2,43.6 L1018.1,44.3 L1017.4,45.4 L1017.1,46.7 L1017.4,48 L1018.1,49.1 L1019.2,49.8 L1020.5,50.1 L1021.8,49.8 L1022.9,49.1 L1023.6,48 L1023.9,46.7 L1023.6,45.4 L1022.9,44.3 L1021.8,43.6ZM1010.9,55.8 L1009.6,56.1 L1009,56.4 L1008.1,57.3 L1007.8,57.9 L1007.5,59.2 L1007.6,59.9 L1008.1,61.1 L1008.5,61.6 L1009.6,62.3 L1010.9,62.6 L1012.2,62.3 L1013,61.9 L1013.5,62 L1013.7,62.2 L1014,63.4 L1014.7,64.5 L1015.8,65.2 L1017.5,65.5 L1018.6,66.6 L1019.2,66.9 L1020.5,67.2 L1021.2,67.1 L1022.4,66.6 L1022.9,66.2 L1023.6,65.1 L1023.9,63.8 L1023.6,62.5 L1022.9,61.4 L1021.8,60.7 L1020.1,60.3 L1019,59.3 L1017.8,58.8 L1016.5,58.8 L1015,59.4 L1014.7,59.4 L1014.3,59.1 L1014,57.9 L1013.3,56.8 L1012.2,56.1ZM942,52.9 L942.2,53.2 L942.2,54.7 L942.4,55.4 L943.1,56.5 L944.5,57.5 L944.4,58.7 L944.7,60 L945,60.6 L946,61.6 L946,61.9 L945.6,63.1 L945.5,63.8 L945.8,65.1 L946.5,66.2 L947,66.6 L948.2,67.1 L948.9,67.2 L950.2,66.9 L950.8,66.6 L951.9,65.4 L952.2,65.3 L953.4,65.5 L954,65.4 L955.3,64.9 L956.2,64 L956.5,63.4 L956.8,62.1 L956.5,60.6 L956.6,60.3 L957.4,59.4 L957.7,58.8 L957.9,58.1 L957.9,57 L958.1,56.5 L958.3,56.4 L958.8,56.3 L960.2,57.4 L960.6,58.8 L961.5,60.1 L961.5,60.4 L961.5,60.6 L960.6,61.9 L960.4,62.6 L960.4,63.8 L960.8,65 L960.8,65.2 L960.6,65.4 L960.2,65.7 L959.1,65.5 L957.8,65.8 L957.2,66.1 L956.3,67 L955.8,68.2 L955.7,68.9 L955.8,69.6 L956.3,70.9 L955.8,72.2 L955.7,72.9 L956,74.2 L956.7,75.3 L957.2,75.7 L958.4,76.2 L959.8,76.2 L960.4,76 L961.5,75.3 L962,75.4 L962.9,76.2 L963.5,76.5 L964.6,76.8 L964.8,77 L965.1,78.2 L965.4,78.8 L966.3,79.7 L967.6,80.2 L968.9,80.2 L970.1,79.7 L970.6,79.3 L971.3,78.2 L971.8,76.6 L972.9,75.8 L973.7,74.7 L975.2,74.3 L975.8,74 L977.5,72.4 L978.2,71.3 L978.5,70 L978.4,69.3 L977.9,68.1 L977.5,67.6 L976.7,66.9 L976.6,66.7 L976.6,66.4 L977.2,65 L977.3,64.3 L977.2,63.6 L976.7,62.4 L975.8,61.5 L974.6,61 L973.3,61 L972.1,61.4 L971.7,61.2 L971.5,60.8 L971.6,59.8 L971.5,59.1 L971,57.9 L970.5,57.2 L970.4,57 L970.6,56.6 L971.8,56.1 L972.9,55.4 L973.3,54.9 L973.9,53.6 L974.1,53.4 L974.6,53.5 L975.4,54.1 L976.6,54.6 L977.3,54.7 L978.6,54.4 L979.2,54.1 L980.1,53.2 L980.7,51.7 L981.5,51.2 L982.5,50.2 L983,50.2 L983.4,50.5 L984,51.4 L984.5,51.8 L986.2,52.5 L986.7,54.3 L987,54.9 L987.4,55.4 L988.5,56.1 L989.8,56.4 L991.1,56.1 L991.7,55.8 L992.2,55.4 L992.9,54.5 L993.2,54.4 L993.6,54.5 L994.3,55.4 L995.5,56.3 L995.8,57.7 L996.3,58.8 L996.1,59.2 L994.9,59.7 L994.4,59.8 L994.2,59.7 L993.4,58.5 L992.9,58.1 L991.6,57.6 L990.4,57.6 L989.7,57.8 L988.6,58.5 L987.9,59.6 L987.6,60.9 L987.9,62.2 L988.6,63.3 L989.7,64 L991,64.3 L991.7,64.2 L992.8,63.8 L993.3,63.7 L993.6,64 L994.3,65 L995.4,65.7 L996.7,66 L998,65.7 L999.1,65 L999.8,63.9 L1000,63.3 L1000,61.9 L999.8,61.3 L999.4,60.4 L999.3,60.2 L999.5,59.8 L1000.6,59.4 L1001.7,59.7 L1002.9,59.7 L1004.2,59.2 L1004.7,58.8 L1005.4,57.7 L1005.6,57 L1005.7,56.4 L1005.5,55.2 L1005.7,54.1 L1005.6,53.2 L1005.9,52.9 L1006.1,52.8 L1006.5,52.8 L1007.3,53.5 L1007.9,53.8 L1009.2,54.1 L1010.5,53.8 L1011.6,53.1 L1012,52.6 L1012.5,51.3 L1012.5,50.1 L1012.2,49 L1012.3,48.6 L1012.7,48.4 L1013.9,48.1 L1014.5,47.8 L1015.4,46.9 L1015.7,46.3 L1015.9,45.6 L1015.9,44.4 L1015.3,42.6 L1015.9,41.2 L1015.9,39.9 L1015.4,38.6 L1015,38.1 L1014.2,37.4 L1014.1,37.2 L1014.1,36.9 L1014.7,35.5 L1014.7,34.1 L1014.2,32.9 L1013.3,32 L1012.7,31.7 L1011.4,31.4 L1010.1,31.7 L1009,32.4 L1008.3,33.5 L1007.9,35 L1006.9,35.5 L1005.7,34.9 L1005.1,33.5 L1004.7,33 L1004.2,32.6 L1003,32.1 L1002.3,32 L1001,32.3 L1000.4,32.6 L999.5,33.4 L999.3,33.4 L999.1,33.4 L998,32.8 L996.7,32.5 L996,32.6 L994.8,33.1 L993.9,34 L993.6,34.6 L993.2,36 L992,36.9 L991.6,37.4 L991.1,38.6 L991,39.3 L991.1,40 L991.6,41.2 L992.5,42.1 L993.1,42.4 L994.2,42.7 L994.4,42.9 L994.8,44.6 L994.5,44.9 L993.1,45.3 L992,46 L991.6,46.5 L991.1,47.7 L991,49.3 L990.7,49.6 L990.3,49.7 L989.8,49.3 L989.7,48.3 L989.2,47.1 L988.8,46.6 L987.8,45.9 L987.5,45.5 L987.5,43.9 L988.8,42.9 L989.2,42.4 L989.7,41.1 L989.7,39.8 L989.2,38.6 L988.8,38.1 L987.7,37.4 L986.4,37.1 L985.7,37.2 L984.5,37.7 L984,38.1 L983.6,38.6 L983,39.9 L982.5,40.1 L982.3,40 L981.9,39.6 L981.8,38.1 L981.3,36.9 L980.4,36 L979.2,35.4 L979,35.2 L978.9,34.2 L978.7,33.5 L978,32.4 L977.5,32 L976.2,31.5 L974.9,31.5 L973.7,32 L973.2,32.4 L972.4,33.5 L972,33.7 L971.7,33.6 L971.4,33.2 L971.1,32.4 L971.2,32.1 L972.2,31 L972.5,30.4 L972.8,29.1 L972.5,27.8 L971.8,26.7 L970.7,26 L969.4,25.7 L968.7,25.8 L967.5,26.3 L967,26.7 L966.6,27.2 L966,28.3 L965.8,28.5 L965.6,28.5 L964.4,28.1 L963.7,28 L962.4,28.3 L961.8,28.6 L960.9,29.5 L960.1,31.3 L959.7,31.5 L958.4,31.5 L957.2,32 L956.3,32.9 L956,33.5 L955.7,34.6 L955.5,34.8 L954.4,35.1 L953.8,35.4 L952.9,36.3 L952.6,36.9 L952.2,38.3 L952,38.5 L951.3,38.9 L951,38.9 L949.5,38.3 L948.3,38.3 L947.6,38.5 L947,38.8 L946.1,39.7 L945.8,40.3 L945.5,41.4 L945.3,41.6 L944.2,41.9 L943.1,42.6 L942.7,43.1 L942.2,44.3 L942.2,46.2 L940.8,47.2 L940.1,48.3 L939.9,49 L939.9,50.3 L940.4,51.5 L940.8,52ZM1007.7,44 L1007.5,43.4 L1008,41.9 L1008.4,41.6 L1009.3,41.7 L1009.8,42.4 L1009.9,42.9 L1009.2,44.2 L1008.8,44.4ZM1005.9,51.6 L1005.6,51.9 L1005.4,52 L1005,52 L1004.2,51.3 L1003.6,51 L1002.6,50.7 L1002.3,50.4 L1002.3,49.9 L1003.1,48.9 L1003.7,48.8 L1004.5,49.7 L1005.7,50.6ZM962.3,43.2 L962.5,41.2 L962.7,41 L963.9,40.4 L964.8,39.5 L965.3,38.3 L965.4,37.4 L965.7,37 L965.9,36.9 L967.5,37.5 L968.7,37.5 L969.2,37.7 L969.4,37.9 L969.7,39.5 L970.4,40.6 L971.5,41.3 L972.6,41.6 L972.7,41.8 L972.9,42.2 L971.6,44.2 L969,45 L966.1,45.4 L964.3,45.3 L962.4,44.9 L962,44.4 L962.1,44.2 L962.5,43.8ZM967.2,64.6 L967,64.2 L967.1,63.7 L967.3,63.3 L967.5,63.2 L968.8,63.1 L970,62.7 L970.2,62.8 L970.6,63.1 L970.5,64.3 L970.8,65.6 L971.5,66.7 L972.3,67.4 L972.4,67.6 L972.2,68.2 L971.5,68.8 L970.6,70 L969.5,70.1 L969.1,69.9 L969,69.5 L969.3,68.5 L969.4,67.8 L969.1,66.5 L968.4,65.4ZM966.9,49.3 L967.4,49.7 L967.8,50.7 L967.2,52.3 L967.2,53.7 L967.4,54.3 L968.3,55.8 L968.1,56.2 L968,56.4 L967.3,56.5 L967,56.3 L966.1,55.1 L964.9,54.2 L964.5,52.8 L963.6,51.3 L963.8,50.9 L963.9,50.7 L965,50.4 L965.6,50.1 L966.4,49.4ZM961.4,49.9 L961.5,50.3 L961.2,50.7 L960.4,50.8 L960,50.6 L959.9,50.4 L959.9,49.9 L960.2,49.4 L960.4,49.3 L960.9,49.3ZM957.9,51.7 L958.3,51.9 L958.5,52.3 L958.1,53.5 L958,54.9 L957.7,55.2 L957.2,55.3 L955.9,54.4 L954.7,53.9 L954.6,53.7 L954.4,51.9 L954.7,51.5 L955.1,51.3 L956.2,51.7 L956.9,51.8ZM941.9,71.9 L940.7,72.4 L940.2,72.8 L939.5,73.9 L939.3,74.5 L939.3,75.9 L939.5,76.5 L940.2,77.6 L941.3,78.3 L943.1,78.7 L944.2,79.7 L945.4,80.2 L946.8,80.2 L948,79.7 L948.5,79.3 L949.2,78.2 L949.5,76.9 L949.2,75.6 L948.5,74.5 L947.4,73.8 L945.6,73.4 L944.5,72.4 L943.9,72.1 L942.6,71.8ZM918.8,54.8 L917.5,54.8 L916.3,55.3 L915.4,56.2 L914.9,57.5 L914.9,58.8 L915.4,60 L916.3,60.9 L917.6,61.4 L918.9,61.4 L920.1,60.9 L921,60 L921.5,58.7 L921.5,57.4 L921,56.2 L920.1,55.3ZM812.6,113.2 L811.3,112.9 L810.1,112.9 L808.8,113.4 L808.3,113.8 L807.6,114.9 L807.3,116.2 L807.4,116.9 L807.9,118.1 L808.8,119 L810.1,119.5 L811.4,119.5 L813.3,118.7 L814.3,119 L814.9,119.1 L816,119 L816.2,119 L817,119.9 L817,120.1 L816.8,121.5 L816.9,122.1 L817.4,123.4 L817.8,123.9 L818.9,124.7 L819.3,126 L820,127.1 L821.1,127.8 L822,128.1 L822.2,128.3 L822.4,129.1 L822.4,129.5 L821.4,130.7 L821,130.8 L820.7,130.7 L820,129.8 L819.5,129.4 L818.9,129.1 L817.6,128.8 L816.3,129.1 L815.2,129.8 L814.5,130.9 L814.3,131.6 L814.3,132.9 L814.8,134.1 L815.2,134.6 L816.3,135.3 L817.8,135.7 L818.1,136.1 L818,136.8 L817.7,137.2 L816.3,137.6 L815.7,137.9 L814.8,138.8 L814.3,140.1 L814.3,141.3 L814.5,142 L814.8,142.6 L815.7,143.5 L816.9,144 L818.2,144.2 L818.9,145.2 L820,145.9 L820.7,146.1 L822.2,146.2 L822.5,146.5 L823.2,147.4 L823.7,147.8 L825,148.3 L826.3,148.3 L827.5,147.8 L828,147.4 L828.4,146.9 L828.9,145.6 L828.9,144.4 L828.7,143.4 L828.7,143.2 L828.8,143 L830.1,142.1 L830.5,141.6 L831,140.4 L831,139 L830.8,138.4 L830.1,137 L830.3,136.6 L830.6,136.5 L832.4,136.7 L832.8,137 L833.4,138.4 L833.8,138.9 L834.8,139.7 L834.9,139.9 L835,141.4 L835.5,142.6 L836.4,143.5 L837.7,144 L838.3,144.1 L839.6,143.8 L840.7,143.1 L841.8,142.8 L842.4,142.5 L843.3,141.6 L843.6,141 L843.8,140.3 L844,139 L844.3,138.8 L845.2,138.8 L845.6,138.9 L845.8,139.3 L845.6,140.7 L845.7,141.4 L846.2,142.6 L847.1,143.5 L848.3,144 L849.7,144 L850.9,143.5 L851.6,143 L852,143 L852.2,143.1 L853,144.2 L854.1,144.9 L855.4,145.2 L856.1,145.1 L857.3,144.6 L858,144.1 L858.4,144 L859.4,145.2 L859.9,145.6 L861.1,146.1 L861.8,146.2 L863.1,145.9 L863.7,145.6 L864.9,144.6 L865.3,144.7 L866.3,145.6 L866.9,145.9 L868.2,146.2 L868.9,146.1 L870.1,145.6 L870.6,145.2 L871.3,144.1 L871.5,143.4 L871.5,142.2 L871.3,141.5 L870.6,140.3 L870.6,140 L871.3,138.8 L871.5,138.2 L871.6,137.5 L871.3,136.2 L871,135.6 L870.1,134.7 L868.8,134.2 L867.3,134.2 L867.1,134.1 L866.4,133.1 L866.3,132.6 L867,131.4 L867.2,130.8 L867.2,129.5 L866.7,128.2 L865.9,127.4 L865.7,126.9 L865.9,126.4 L866.6,125.7 L867.1,125.5 L867.5,125.7 L868,126.6 L868.9,127.5 L870.2,128 L871.4,128 L872.7,127.5 L873.2,127.1 L873.9,126 L874.1,125.3 L874.1,124.1 L873.9,123.4 L873,121.9 L873.2,120.5 L873.1,119.9 L872.6,118.6 L871.7,117.7 L871.1,117.4 L869.8,117.1 L868.4,117.3 L868,117.1 L867.8,116.7 L868.1,116.3 L869,115.3 L869.2,115.3 L870.3,115.4 L870.9,115.3 L872.2,114.8 L873.1,113.9 L873.6,112.8 L873.8,112.6 L875.1,112.7 L876.4,112.4 L877,112.1 L877.9,111.2 L878.4,109.9 L878.4,108.6 L878.2,108 L877.5,106.9 L876.4,106.2 L875.1,105.9 L873.8,106.2 L872.7,106.9 L871.6,108.7 L869.6,108.7 L868.4,109.2 L867.3,110.3 L867.1,110.3 L866,110.2 L865.4,110.3 L864.1,110.8 L863.2,111.7 L862.7,112.7 L862.5,112.8 L861.2,112.9 L860.5,113.1 L859.4,113.8 L858.7,114.9 L858.3,116.8 L857.3,117.5 L856.7,118.3 L856.5,118.4 L856,118.4 L855.2,117.7 L854.3,117.2 L854.1,116.6 L854.3,116.3 L855.2,115.8 L855.7,115.4 L856.4,114.3 L856.7,113 L856.6,112.3 L856.2,111.1 L856.2,110.9 L856.4,110.6 L857.8,110 L858.3,109.6 L859,108.5 L859.2,107.8 L859.2,106.6 L859,105.9 L858.3,104.8 L857.8,104.4 L856.5,103.9 L855.3,103.9 L854.6,104.1 L854,104.4 L853.1,105.3 L852.8,105.9 L852.4,107.3 L852,107.6 L851.6,107.6 L851.2,107.3 L850.7,106.3 L849.8,105.4 L848.5,104.9 L847.3,104.9 L846.6,105.1 L845.5,105.8 L844.9,106.6 L844.5,106.7 L844.2,106.7 L843.9,106.3 L843.8,105.4 L843.3,104.2 L842.9,103.7 L841.8,102.9 L841.4,101.6 L840.7,100.5 L839.6,99.8 L838.9,99.6 L837.6,99.6 L837.2,99.4 L837,99 L836.7,97.9 L836.4,97.3 L835.5,96.4 L834.2,95.9 L832.9,95.9 L831.7,96.4 L831.2,96.8 L830.3,98 L830.1,98.1 L829.6,98 L829.1,97.4 L829,97 L829.2,96.6 L830,95.7 L830.3,95.1 L830.6,93.8 L830.4,92.2 L831.2,91.5 L831.9,90.4 L832.1,89.7 L832.1,88.5 L831.6,87.2 L830.7,86.3 L829.5,85.8 L828.2,85.8 L826.9,86.3 L826,87.2 L825.7,87.8 L825.4,89.1 L825.6,90.7 L824.4,91.9 L823.9,93.1 L823.8,93.8 L824.1,95.1 L824.8,96.3 L824.8,96.8 L823.8,97.8 L823.5,98.4 L823.1,99.8 L822.1,100.5 L821.7,101 L821.4,101.6 L821,103 L820.6,103.3 L819.7,103.2 L818.3,103.5 L816.7,102.8 L815.3,102.8 L814.1,103.3 L813.6,103.7 L812.9,104.8 L812.6,106.1 L812.7,106.8 L813.2,108 L813.6,108.5 L814.1,108.9 L815.3,109.4 L816,109.5 L817.4,109.2 L818.4,109.7 L819.7,110.1 L820,110.5 L819.9,110.9 L818.9,111.7 L817.8,113.3 L817.4,113.3 L816.2,112.6 L814.9,112.3 L813.6,112.6ZM867.4,116.8 L867.8,117 L868,117.4 L867.9,117.6 L867,118.6 L866.7,119.2 L866.4,120.5 L866.2,120.7 L865.8,120.8 L864.6,120.4 L863.5,120.3 L863.2,120 L863.1,119.8 L863.2,119.3 L864.2,118.6 L864.6,118.1 L865.1,117.1 L865.3,117 L866.6,116.9ZM863.4,139.8 L863.3,139.4 L863.5,139 L863.9,138.8 L864.8,138.7 L865,138.8 L865.7,139.8 L865.8,140.3 L865.3,140.9 L864.9,141ZM843.5,107.7 L843.9,107.6 L844.3,107.8 L844.5,108.2 L844.3,108.6 L843.9,108.8 L843.4,108.5 L843.3,108.1ZM835.5,113 L835.3,112.6 L835.4,111.5 L835.6,111.1 L837.1,110.5 L838.5,109.1 L839,109.1 L839.7,109.6 L839.8,110 L839.3,111.3 L839.2,112.4 L838.9,112.8 L838.1,113.1 L836.8,113.8 L836.4,113.7ZM829.9,100.9 L830.1,100.8 L830.6,100.9 L831.2,101.6 L832.3,102.3 L833,102.5 L834.3,102.5 L834.7,102.7 L834.9,103.1 L835,103.9 L834.9,104.1 L834.8,104.3 L833.3,104.9 L832.2,106 L831.7,106.1 L831.5,106 L830.6,104.8 L830.1,104.4 L829.5,104.1 L828.2,103.8 L827.9,103.4 L828,102.8 L829,102.1ZM821.3,110.6 L821,110.2 L821,110 L821.1,109.8 L822.1,109 L822.5,108.5 L822.8,107.9 L823.2,106.5 L823.6,106.2 L824.3,106.3 L824.7,106.5 L824.8,106.7 L824.9,107.9 L825.4,109.1 L826.3,110 L827.5,110.6 L828.5,112.3 L828.5,112.5 L828.2,112.9 L828,113 L826.6,112.8 L824.8,113.1 L824.6,113 L823.7,111.7 L823.2,111.3 L822.6,111ZM822.6,117.8 L822.8,117.6 L823.3,117.5 L824.7,119 L825.9,119.5 L827.1,119.6 L827.4,119.8 L827.7,121.8 L826.5,123.6 L826.3,123.7 L826.1,123.8 L825.7,123.6 L824.8,122.3 L823.7,121.5 L823.3,120.2 L822.4,118.7ZM846.9,146.4 L845.6,146.7 L844.5,147.4 L843.8,148.5 L843.5,149.8 L843.8,151.1 L844.5,152.2 L845.6,152.9 L846.9,153.2 L848.2,152.9 L849.3,152.2 L850,151.1 L850.3,149.8 L850,148.5 L849.3,147.4 L848.2,146.7Z" fill="#ff0000" fill-rule="evenodd"/>
<path d="M1013.4,494.1 L1012.2,494.6 L1011.3,495.5 L1010.8,496.8 L1010.8,498.1 L1011.3,499.3 L1012.2,500.2 L1013.5,500.7 L1014.8,500.7 L1016,500.2 L1016.9,499.3 L1017.4,498 L1017.4,496.7 L1016.9,495.5 L1016,494.6 L1014.7,494.1ZM888.1,288.6 L887.1,289.7 L886.6,290.9 L886.6,292.2 L887.1,293.5 L887.5,294 L888.6,294.7 L889.3,294.9 L890.7,295 L891,295.1 L891.6,296.5 L892.5,297.4 L893.1,297.7 L893.8,297.9 L895,297.9 L895.7,297.7 L896.8,297 L897.5,295.9 L897.7,295.2 L897.7,294 L897.4,292.9 L897.4,292.6 L898.6,291.3 L899.1,291.3 L900.2,291.5 L901,292.5 L901.5,292.9 L902.7,293.4 L903.4,293.5 L904.7,293.2 L905.3,292.9 L905.8,292.5 L906.6,291.4 L907.1,291.3 L908.8,292 L909,292.2 L909.1,292.4 L908.9,293.8 L909.1,295 L908.9,296.1 L909.2,297.4 L909.5,298 L910.4,298.9 L911.6,299.4 L912.9,299.4 L913.6,299.2 L914.7,298.5 L915.4,297.4 L915.7,296.1 L915.5,294.9 L915.8,294.5 L916.2,294.4 L917.7,294.9 L918.9,294.9 L920.2,294.4 L921.1,293.5 L921.6,292.2 L921.6,291 L921.4,290.3 L920.6,288.9 L921.1,287.8 L921.4,287.5 L922.6,287.2 L923.7,286.6 L923.9,286.6 L925.4,287.5 L926.1,287.7 L927.4,287.7 L928.9,287 L929.2,287 L930.7,287.7 L932,287.7 L932.7,287.5 L933.7,287 L934.8,287.1 L936.1,286.8 L936.7,286.5 L937.6,285.6 L937.9,285 L938.2,283.7 L937.9,282.4 L937.5,281.6 L936.6,280.7 L935.3,280.2 L934,280.2 L933.4,280.4 L932.3,281 L931.7,280.9 L931.2,280.1 L931.4,279 L931.1,277.7 L930.4,276.6 L929.2,275.8 L929,274.5 L928.5,273.2 L928.7,272.8 L928.8,272.6 L930,272.3 L931.5,271.6 L932.8,271.5 L934,271 L934.9,270.1 L935.7,268.2 L937.5,267.8 L938.6,267.1 L939.3,266 L939.6,264.7 L939.5,263.7 L939.8,263.3 L940.7,263 L941.6,262.5 L942,262.5 L942.9,263 L943.5,263.2 L944.8,263.2 L945.9,264.4 L945.9,265.1 L945.3,265.8 L944.8,267 L944.7,267.7 L945,269.2 L944.9,269.4 L944.1,270.3 L943.8,270.9 L943.2,273.7 L943.5,275 L943.8,275.6 L944.7,276.5 L946.3,277.3 L946.8,278.2 L947.2,278.7 L948.3,279.4 L949.6,279.7 L950.9,279.4 L952.2,278.6 L953.3,278.5 L954.6,278 L956.4,278.3 L957.7,278 L958.8,277.3 L959.2,276.8 L959.8,275.4 L961,274.6 L961.4,274.1 L962.2,272.5 L962.6,272.4 L963.8,272.8 L964.5,272.9 L965.8,272.6 L966.9,271.9 L967.6,270.8 L967.8,270.1 L967.8,268.5 L967.3,267.3 L966.9,266.8 L965.8,266.1 L965.1,265.9 L963.9,265.9 L963,266.1 L962.6,266 L961.8,264.1 L961.4,263.6 L960.5,262.9 L960.4,262.7 L960.5,261.8 L960.2,260 L961.6,258.6 L962.1,257.4 L962.1,256.8 L961.9,255.4 L961.5,254.8 L960.6,253.9 L960.6,253.6 L960.8,253.2 L962,252.6 L962.5,252.8 L963,253.9 L963.4,254.4 L963.9,254.8 L965.4,255.4 L965.5,255.6 L965.9,257.1 L966.6,258.2 L967.1,258.6 L967.7,258.9 L969.3,259.3 L969.9,259.4 L971.2,259.2 L971.4,259.3 L971.7,259.6 L972.2,260.7 L973.1,261.6 L974.4,262.1 L975.7,262.1 L976.9,261.6 L977.4,261.2 L978.1,260.1 L978.6,258.8 L978.7,258.1 L978.4,256.8 L977.7,255.7 L976.6,254.9 L976.5,254.4 L976.8,254 L977.9,253.7 L978.5,253.4 L979.4,252.5 L979.7,251.9 L980,250.6 L979.8,249.2 L979.6,248.5 L979.3,247.9 L978.4,247 L977.1,246.5 L976.5,246.4 L975.2,246.7 L974.1,247.4 L973.7,247.9 L973.2,249.1 L973.1,249.8 L973.3,251.2 L973.8,252.5 L974.2,253 L975.3,253.8 L975.4,254.3 L975.1,254.7 L973.6,255.1 L973.4,255.1 L973.2,254.9 L972.3,253.6 L971.2,252.9 L970.2,252.6 L969.9,252.2 L970,251.7 L970.9,251 L971.3,250.5 L971.8,249.2 L971.8,247.9 L971.6,247.3 L971,246.3 L971,246 L971.1,245.7 L972.3,244.9 L972.7,244.4 L973.2,243.1 L973.2,241.9 L973,241.2 L972.7,240.6 L971.8,239.7 L970.6,239.2 L969,239 L967.7,239.3 L966.6,240 L965.9,241.1 L965.6,242.4 L965.9,243.7 L966.2,244.3 L966.8,245 L966.8,245.4 L965.7,246.7 L965.4,247.3 L965.1,248.5 L964.7,248.8 L963.8,249.2 L963.3,249 L962.8,247.9 L961.9,247 L961.3,246.7 L959.9,246.3 L959.7,246.1 L959.6,245.9 L959.8,244.6 L959.7,243.9 L959.2,242.7 L958.8,242.2 L957.7,241.5 L955.8,241.1 L955.1,240 L954.2,239.1 L953.6,238.8 L952.3,238.5 L951.6,238.6 L950.4,239.1 L949.5,240 L949.2,240.6 L948.9,241.9 L949.2,243.2 L950.2,244.8 L951.5,245.7 L951.6,246.1 L951.4,246.5 L950.6,247 L949.6,247.9 L949,247.9 L948.5,247.6 L947.9,246.4 L947.5,245.9 L946.3,245.1 L946.2,244.8 L946.2,243.2 L945.7,242 L944.8,241.1 L944.2,240.8 L943.1,240.5 L942.9,240.3 L942.8,240.1 L942.8,238.6 L942.6,237.9 L941.9,236.8 L940.8,236.1 L940.5,235.7 L940.6,235.3 L941,234.1 L941.1,233.4 L940.8,232.1 L940.5,231.5 L939.6,230.6 L938.4,230.1 L937.1,230.1 L936.4,230.3 L935.3,231 L934.6,232.1 L934.2,233.2 L934.2,234.4 L934.7,235.7 L935.1,236.2 L936.2,236.9 L936.5,237.3 L936.1,239.2 L936.4,240.5 L937.1,241.6 L937.6,242 L938.5,242.5 L938.8,243 L938.5,243.4 L938.2,243.6 L937,243.6 L935.6,244 L934.6,243.2 L934,242.9 L932.6,242.6 L931.3,242.9 L930.7,243.2 L929.6,244.1 L928.1,243.7 L926.8,243.7 L925.6,244.2 L925.1,244.6 L924.6,245.1 L924.2,246.2 L923.6,246.4 L923.1,246.3 L922.8,245.9 L923.3,243.9 L923,242.6 L922.7,242 L921.8,241.1 L920.6,240.6 L919.8,240.5 L918.5,240.8 L917.4,241.5 L917,242 L916.5,243.2 L916.4,243.9 L916.7,245.2 L917,245.8 L917.9,246.7 L918.5,247 L919.7,247.3 L919.9,247.5 L920,247.9 L919.6,249 L919.6,249.7 L919.9,251.5 L918.8,252.7 L918.5,253.3 L918.2,254.7 L917.7,254.9 L916.6,255.2 L915.5,255.9 L914.8,257 L914.5,258.3 L913.4,259 L912.5,259.9 L911.7,261.7 L911.3,261.9 L910,261.4 L909.3,261.3 L908,261.6 L906.9,262.3 L906,263.6 L905.8,263.7 L904.2,263.8 L903,264.3 L902.5,264.7 L901.8,265.8 L901.6,266.5 L901.6,267.7 L901.8,268.4 L902.5,269.5 L903.6,270.2 L904.4,270.5 L904.8,271 L904.4,272.4 L904.3,273 L904.7,275 L903.5,276.3 L903,277.5 L902.9,278.4 L902.7,278.6 L901.7,279.2 L900.6,279.5 L900,279.8 L898.9,280.8 L898.7,280.9 L897.4,280.7 L896.1,281 L895,281.7 L894.2,282.7 L894,282.8 L893.6,282.9 L892.7,282.5 L891.4,282.2 L890.1,282.5 L889.5,282.8 L888.6,283.7 L888.1,284.9 L888.1,286.2 L888.4,287.2ZM950.3,265.1 L950.3,264.4 L950.9,263.7 L951.2,263.1 L951.5,261.8 L951.4,261.1 L950.8,259.6 L950.8,259.4 L951.2,258.8 L951.6,258.7 L953.2,259.4 L954,263.1 L954.7,264.2 L955.6,264.9 L955.7,265.1 L955.7,266.6 L956,267.8 L954.9,269 L954.6,269.6 L954.4,270.3 L954.3,271.6 L954,271.9 L953.8,272 L952.6,271.8 L951.9,271.9 L950.9,272.2 L950.5,272.1 L950.3,271.9 L950.2,271.2 L950.3,271 L951.1,270.1 L951.4,269.5 L951.7,268.2 L951.6,267.5 L951.2,266.4 L950.9,265.8ZM924,265.5 L924,265.1 L924.3,264.8 L925.3,264.5 L925.9,264.2 L926.4,263.8 L927.1,262.8 L928.6,262.3 L929,262.4 L929.8,263.1 L930.4,263.4 L931.7,263.7 L931.9,264.1 L932,264.4 L931.7,264.8 L930.8,265.1 L930,265.5 L928.7,265.6 L927.4,266.1 L926.8,266.4 L925.6,267.5 L925.1,267.5 L924.7,267.2 L924.4,266.4ZM917.3,279.4 L917.2,278.9 L917.6,278.6 L919,278.5 L920.2,278 L921.1,277.1 L921.6,276.3 L922,276.1 L922.4,276.3 L923.3,277.6 L924.3,278.3 L924.6,278.7 L924.6,279 L924.1,279.9 L923.8,280.9 L923.4,281.2 L923.2,281.2 L922,280.8 L921.3,280.7 L920.6,280.8 L919.2,281.3 L919,281.3 L918.7,281.2 L918.3,280.5ZM921.5,271.1 L921.9,271.4 L922.2,272.2 L922.7,273.2 L922.7,273.6 L922.4,274.1 L922,274.3 L921.6,274.1 L920.7,272.8 L919.8,272.1 L919.7,271.8 L919.8,271.3 L920.1,271ZM927.6,251.6 L927.9,252.2 L928,253 L927.7,254.1 L927.3,254.7 L926.8,255 L925.9,254.8 L925.4,254.4 L925,253.4 L925,252.6 L925.3,251.9 L925.7,251.3 L926.2,251 L926.8,251ZM919.1,266.5 L918.7,267.5 L917.9,268.3 L916.9,268.7 L916.4,268.7 L916.1,268.4 L915.9,267.5 L916.2,266.9 L916.6,266.2 L917.1,265.7 L917.8,265.4 L918.6,265.3 L919,265.9ZM915.1,284.8 L915,286.2 L914.6,287.5 L914,288.3 L913.6,288.5 L913.2,288.2 L912.9,287.2 L912.9,286.3 L913.3,284.9 L913.8,283.9 L914.4,283.5 L914.8,283.8ZM954.2,288.5 L953.1,289 L952.6,289.4 L951.9,290.5 L951.6,291.8 L951.9,293.1 L952.6,294.2 L953.7,294.9 L955,295.2 L955.7,295.1 L956.9,294.7 L958,294 L958.7,292.9 L959,291.6 L958.7,290.3 L958,289.2 L956.9,288.5 L955.6,288.2ZM927.2,234.5 L925.9,234.8 L925.3,235.1 L924.4,236 L923.9,237.2 L923.9,238.6 L924.4,239.8 L925.3,240.7 L925.9,241 L927.2,241.3 L928.7,241.1 L929.9,240.6 L930.8,239.7 L931.3,238.4 L931.3,237.1 L930.8,235.9 L929.9,235 L928.6,234.5ZM883.4,310.2 L882.8,312.7 L882.9,313.4 L883.4,314.6 L883.8,315.1 L884.9,315.8 L886.2,316.1 L887.7,315.8 L888.9,315.3 L889.4,314.9 L890.4,313.7 L892,313.9 L892.7,313.8 L893.9,313.3 L895,312.5 L895.4,312.5 L896.4,313.5 L897,313.8 L898.3,314.1 L899.6,313.8 L900.2,313.5 L901.1,312.6 L901.6,311.4 L901.7,310.7 L901.4,309.4 L900.8,308.4 L900.7,307.4 L900.5,306.7 L899.8,305.6 L898.7,304.9 L898.1,304.7 L896.3,304.5 L894.9,303.2 L893.8,302.6 L893.3,302.2 L891.5,301.5 L890.2,301.2 L888.9,301.5 L888.3,301.8 L887.4,302.7 L886.9,304 L886.9,305.8 L885.4,307.5 L884.9,308.5 L884.1,309.1 L883.7,309.6ZM887.8,397.7 L886.5,398 L885.4,398.7 L884.7,399.8 L884.4,401.1 L884.7,402.4 L885.4,403.5 L886.5,404.2 L887.8,404.5 L889.1,404.2 L890.2,403.5 L890.9,402.4 L891.2,401.1 L890.9,399.8 L890.2,398.7 L889.1,398ZM855.8,405.2 L855.9,405.7 L855.5,406.6 L855.2,407.9 L855.5,409.2 L856.2,410.3 L857,410.9 L857.6,411.9 L858.3,412.4 L858.5,412.8 L858.2,414.3 L858.3,415 L858.8,416.4 L858.3,417.7 L858.2,418.4 L858.5,419.7 L859.2,420.8 L860.3,421.5 L861.6,421.8 L862.5,421.7 L863.9,422.1 L864.2,422.5 L864.3,423.6 L864.8,424.8 L865.7,425.7 L866.3,426 L867,426.2 L868.2,426.2 L868.9,426 L870,425.3 L870.4,424.8 L870.9,423.5 L870.9,422.3 L870.6,421.4 L870.6,420.7 L870.9,420.4 L872,420.1 L873.1,419.5 L873.5,419.5 L874.5,420.1 L875.8,420.3 L877.1,420.2 L877.8,420 L879.4,419 L880.7,419.2 L881.5,419.1 L882.1,418.9 L883.2,418.2 L883.7,418.3 L884.9,418.7 L886.1,418.7 L887.4,418.2 L888.3,417.3 L888.6,416.7 L888.9,415.4 L888.6,414.1 L888.3,413.5 L887.4,412.6 L886,412 L885.9,411.7 L885.8,410.3 L885.6,409.6 L885.3,409 L884.4,408.1 L883.1,407.6 L881.8,407.6 L881.2,407.8 L880.1,408.5 L879.7,409 L879,410.4 L878.8,410.6 L878.2,410.7 L877.2,410.4 L875.5,410.4 L874.8,409 L874.4,408.5 L873.9,408.1 L872.7,407.4 L872.3,406.2 L872.5,405 L872.2,403.7 L871.5,402.6 L870.4,401.9 L869.7,401.7 L868.5,401.7 L867.8,401.9 L866.9,402.4 L866.6,402.4 L866.2,402.1 L865.5,401.1 L864.4,400.4 L863.7,400.2 L862.5,400.2 L861.8,400.4 L860.9,400.9 L860.6,400.9 L860.2,400.6 L859.5,399.6 L858.4,398.9 L857.7,398.7 L856.4,398.7 L855.2,399.2 L854.3,400.1 L854,400.7 L853.7,402 L853.8,402.7 L854.3,403.9 L854.7,404.4ZM803.5,354.1 L802.5,353.9 L801.2,353.9 L800,354.4 L799.1,355.3 L798.8,355.9 L798.5,357.2 L798.8,358.5 L799.5,359.6 L800.6,360.3 L801.3,360.5 L802.5,360.5 L803.7,360.1 L804.7,360.4 L806,360.4 L806.3,360.6 L806.8,361.8 L807.4,362.5 L807.6,363.8 L807.8,364.5 L808.1,365.1 L809,366 L810.2,366.5 L811.3,366.6 L812.5,367 L813.1,367.1 L814.6,366.8 L814.9,366.8 L816.4,368.1 L816.7,369 L817.4,370.1 L818.5,370.8 L819.8,371.1 L821.1,370.8 L821.7,370.5 L822.6,369.6 L823.1,368.6 L824.2,368 L825.5,366.6 L826,366.7 L826.9,367.5 L828.1,368 L829.4,368 L830.1,367.8 L830.7,367.5 L831.6,366.6 L831.9,366 L832.2,365 L832.6,364.7 L833.2,364.9 L833.8,365.6 L834.3,366 L835.6,366.5 L836.9,366.5 L838.3,365.9 L838.6,365.9 L839.4,366.3 L840.7,366.6 L842,366.3 L842.6,366 L843.1,365.6 L843.8,364.5 L844,363.8 L844.1,362.3 L845,361.1 L846.5,361.3 L847.7,361 L848.8,360.3 L849.7,359.1 L849.9,359 L851.2,359.2 L852.4,358.9 L853.5,358.2 L854.3,357.2 L854.5,357.1 L856,357.4 L856.7,357.3 L857.3,357.1 L858.4,356.4 L859.9,354.7 L860.4,353.5 L860.4,352.2 L860,351 L860,350.6 L860.2,350.2 L861.4,349.9 L862,349.6 L862.9,348.7 L863.4,347.5 L863.5,346.1 L863.9,345.7 L865.2,345.6 L866.5,345.2 L866.7,345.2 L867.1,345.5 L867.5,347 L867.2,348.5 L867.2,349.3 L867.5,350.2 L867.5,350.5 L866.6,351.5 L866,352.7 L865.2,353.3 L864.8,353.8 L864.3,355 L864.3,356.4 L864.8,357.6 L865.2,358.1 L866.3,358.8 L867,359 L868.2,359 L869.5,358.5 L870.5,357.5 L870.9,357.5 L872.4,358 L873.1,358.5 L874.3,359 L875,359.1 L876.3,358.8 L876.9,358.5 L877.8,357.6 L878.3,356.4 L878.4,355.7 L878.3,355 L877.8,353.8 L876.8,352.7 L876.7,352.5 L876.9,351.3 L876.8,350.6 L876.6,350 L875.2,347.5 L875.2,347.1 L876.1,345.5 L876.3,345.4 L878,345 L879.6,343.9 L881,344.2 L882.3,343.9 L882.9,343.6 L883.8,342.7 L884.3,341.4 L884.3,340.1 L883.8,338.9 L883.4,338.4 L882.3,337.7 L880.3,337.3 L879.1,335.9 L879.5,334.1 L879.2,332.3 L879.4,332 L880.4,331.3 L881.1,330.2 L881.4,328.9 L881.1,327.6 L880.8,327 L879.9,326.1 L879.3,325.8 L878,325.5 L877.3,325.6 L876.1,326.1 L874.7,327.5 L872.9,327.2 L871.5,327.4 L871,327.1 L870.7,326.1 L870.4,325.5 L869.5,324.6 L868.2,324.1 L866.9,324.1 L866.3,324.3 L865.2,325 L864.5,326.1 L864.2,327.4 L864.3,328.1 L864.8,329.4 L864.6,329.8 L864.5,330 L863.3,330.3 L862.2,331 L861.5,332.1 L861.2,333.2 L861,333.3 L860.6,333.5 L859.3,333 L858.6,332.9 L857.3,333.2 L856.2,333.9 L855.3,335.2 L854.1,335.6 L853.8,335.5 L852.5,334.7 L851.8,334.5 L850.6,334.5 L849.3,335 L848.4,335.9 L848.1,336.5 L847.8,337.7 L846.6,339 L845.3,339.9 L844.5,341 L844.4,341.6 L844.4,342.9 L845.1,345.1 L845.4,345.7 L846.3,346.6 L846.9,346.9 L848.2,347.2 L849.5,346.9 L850.1,346.6 L851,345.7 L851.3,345.1 L851.6,343.5 L851.8,343.3 L852.9,342.7 L853.9,341.8 L854.1,341.7 L855.7,342 L857.1,341.8 L857.5,341.9 L858.5,343.1 L858.6,343.3 L858.5,343.8 L857.7,344.4 L857,345.5 L856.8,346.2 L856.6,347.7 L856.3,347.9 L855,348 L854.1,348.2 L853.2,348 L851.9,348 L850.7,348.5 L849.6,349.5 L849.4,349.6 L848.2,349.4 L846.9,349.7 L845.8,350.4 L845,351.5 L844,352.3 L843.1,352.4 L842.1,352.7 L841.1,352.8 L840.4,353 L839.3,353.7 L838.3,355 L837.1,354.9 L836.1,355 L835.8,354.9 L835.3,354.1 L834.9,352.9 L834.6,352.3 L833.7,351.4 L832.4,350.9 L831.8,350.8 L830.7,351 L830.2,351 L829.2,350 L827.9,349.5 L826.7,349.5 L826,349.7 L825.4,350 L824.6,350.8 L824.2,351 L822.8,350.8 L822.2,350.9 L821.5,351.1 L820.7,351.5 L820.3,351.5 L818.7,350 L817.5,349.5 L816.3,349.3 L815.8,348.8 L815.7,347.7 L815.5,347 L814.8,345.9 L813.7,345.2 L812.4,344.9 L811.1,345.2 L810,345.9 L809.6,346.4 L809.1,347.6 L809,348.3 L809.1,349 L809.4,350 L809.3,350.4 L808.4,350.8 L807.2,350.9 L806,351.4 L805.1,352.3 L804.4,353.7ZM842,378.1 L842.5,378.9 L843.3,379.8 L843.6,380.9 L843.9,381.5 L844.8,382.4 L845.8,382.9 L846.6,384.1 L847.6,384.8 L848.1,385.9 L849,386.8 L850.5,387.4 L851.8,387.4 L853.1,386.9 L854,386 L854.5,384.8 L854.6,384.1 L854.5,383.4 L854,382.2 L853.6,381.7 L852.3,380.8 L851.8,379.8 L851.4,379.3 L850.6,378.6 L850,377.5 L849.6,377 L848.7,376.3 L848.1,375.1 L847.7,374.6 L847,374 L846.3,372.9 L845.4,372 L844.8,371.7 L843.5,371.4 L842.2,371.7 L841.1,372.4 L840.4,373.5 L840.1,374.8 L840.4,376.1 L841.3,377.5Z" fill="#008000" fill-rule="evenodd"/>
<path d="M1070.4,515.9 L1069.1,515.9 L1067.9,516.4 L1067,517.3 L1066.5,518.5 L1066.5,519.8 L1066.7,520.5 L1067.4,521.6 L1068.5,522.3 L1069.8,522.6 L1070.5,522.5 L1071.7,522 L1072.6,521.1 L1072.9,520.5 L1073.3,519 L1073.4,518.9 L1073.9,518.8 L1074.2,518.9 L1075,520.1 L1075.5,520.5 L1076.2,520.9 L1077.2,521.2 L1077.4,521.4 L1077.8,522.8 L1078.5,523.9 L1079,524.3 L1080.3,524.8 L1082.1,524.8 L1083.1,526.3 L1084.2,527 L1085.5,527.3 L1087.2,527 L1088.6,528.5 L1089.8,529 L1091.2,529 L1091.8,528.8 L1092.8,528.2 L1093.1,528.2 L1094.2,528.9 L1094.9,529.1 L1096.1,529.1 L1096.8,528.9 L1097.9,528.2 L1098.3,527.7 L1098.7,527.1 L1099,525.7 L1099.2,525.5 L1100.3,525.2 L1100.9,524.9 L1102.1,523.8 L1102.3,523.7 L1103.5,524.1 L1104.7,524.1 L1106,523.6 L1106.5,523.2 L1107.2,522.1 L1107.4,521.5 L1107.4,519.8 L1107.6,519.6 L1108.8,518.7 L1109.6,517.6 L1109.8,516.9 L1109.9,515.2 L1111.4,514.2 L1112.2,513.1 L1112.4,511.7 L1112.1,510 L1113.3,508.7 L1113.8,507.5 L1113.8,506.2 L1113.3,505.1 L1113.3,504.5 L1114,503.7 L1114.3,503.1 L1114.5,502.4 L1114.5,501.1 L1114.7,500.7 L1115.8,499.9 L1116.2,499.4 L1116.8,498.1 L1116.8,496.8 L1116.2,495.4 L1116.5,493.8 L1116.2,492.5 L1115.5,491.4 L1115,491 L1113.7,490.5 L1113,490.4 L1111.8,490.6 L1110.3,491.5 L1108.5,490.8 L1107.2,490.8 L1106.5,491 L1105.4,491.8 L1105,492.3 L1104.3,493.7 L1103,493.8 L1102.3,494 L1101.2,494.7 L1100.8,495.2 L1100.5,495.9 L1100.2,497.1 L1100.3,497.8 L1100.6,498.8 L1100.6,499.2 L1099.5,500.3 L1098.9,501.5 L1098.7,501.6 L1097.4,501.7 L1096.8,501.9 L1095.6,502.6 L1094.9,503.7 L1094.7,504.4 L1094.7,505.7 L1094.4,506 L1093.3,506.6 L1092.3,507.5 L1092.1,507.5 L1090.5,507.2 L1089.2,507.5 L1088.6,507.8 L1088.1,508.2 L1087.2,509.5 L1087,509.6 L1085.6,509.7 L1084.5,510.2 L1083.5,511.1 L1082.8,512.4 L1081.5,512.6 L1080.4,513.1 L1079.8,513.5 L1079,514.5 L1077.5,514.3 L1076.8,514.4 L1075.6,514.9 L1074.6,515.9 L1074.3,516.4 L1074,517.9 L1073.6,518.2 L1073.1,518.1 L1072.2,516.8 L1071.7,516.4ZM1092.2,519.2 L1092.5,519.8 L1092.3,520.7 L1092.1,521 L1091.7,521.2 L1091.1,521.1 L1090.7,520.7 L1090.5,520.2 L1090.7,519.3 L1091.1,518.9 L1091.5,518.8 L1091.9,518.9ZM1053.5,374 L1052.5,374.9 L1052,376.1 L1052,377.5 L1052.5,378.7 L1053.4,379.6 L1054.1,380 L1055.7,380.3 L1056.7,380.6 L1057.9,380.6 L1058.6,380.4 L1059.7,379.7 L1060.4,378.6 L1060.6,377.9 L1060.6,376.7 L1060.3,375.6 L1060.2,374.4 L1060,373.8 L1059.7,373.1 L1058.9,372.2 L1058.8,371.9 L1059.3,371 L1061.1,370.6 L1062.4,369.6 L1062.7,369.6 L1064,370.1 L1064.6,370.1 L1066.1,369.9 L1066.3,370 L1067,370.9 L1067.5,371.3 L1068.7,371.8 L1070.1,371.8 L1071.1,371.4 L1071.7,371.4 L1072.5,372.1 L1073.1,372.4 L1074.6,372.7 L1074.9,372.9 L1075.5,374.3 L1076.3,375.2 L1076.4,376.6 L1076.6,377.3 L1077.4,378.4 L1078.5,379.1 L1080.2,379.5 L1080.9,380.9 L1081.9,381.8 L1083.1,382.3 L1084.2,382.4 L1084.4,382.6 L1085,383.8 L1085.9,384.7 L1087.2,385.2 L1088.9,385.2 L1090,386.6 L1091,387.3 L1091.7,387.5 L1093,387.5 L1094.2,387.1 L1094.5,387.1 L1095.8,388 L1097.1,388.3 L1097.8,388.2 L1098.4,388 L1099.5,387.3 L1099.9,386.8 L1100.5,385.6 L1100.7,385.4 L1102.2,385.1 L1103.3,384.4 L1103.8,383.8 L1104.3,382.6 L1104.3,381.3 L1103.7,379.7 L1104.6,378.2 L1104.8,377 L1104.8,376.3 L1104.2,375 L1102.9,373.8 L1103.2,372.1 L1102.9,370.9 L1102.6,370.3 L1101.5,369.1 L1101.9,367.3 L1101.8,366 L1102.9,365.1 L1103.6,364 L1103.8,363.3 L1103.8,362 L1103.3,360.8 L1102.8,360.3 L1101.8,359.6 L1101.1,359.4 L1099.8,359.4 L1098.3,359.9 L1096.7,359.6 L1096,359.6 L1094.8,360 L1093.7,359.1 L1093.1,358.7 L1091.7,358.5 L1090.5,358.7 L1089.3,359.4 L1089.1,359.4 L1087.7,358.8 L1087,358.7 L1086.3,358.8 L1084.9,359.4 L1084.6,359.4 L1083.6,358.8 L1082.4,358.5 L1082.2,358.3 L1081.8,357 L1081.1,355.9 L1080,355.2 L1079.3,355 L1078,355 L1076.6,355.6 L1075.7,355.3 L1074.4,355.3 L1073.2,355.8 L1072.1,356.8 L1071.9,356.9 L1071.2,356.7 L1070.7,356.4 L1070.4,355.2 L1070.1,354.6 L1069.2,353.6 L1068,353.1 L1066.6,353.1 L1065.4,353.6 L1064.9,354.1 L1064.4,354.6 L1063.9,356 L1063.7,356.2 L1062.5,356.5 L1061.9,356.8 L1061,357.7 L1060.4,358.9 L1060.4,359.6 L1060.5,360.6 L1060.2,361.1 L1059.7,361.3 L1059.3,361.3 L1057.8,359.9 L1056.7,359.4 L1055.9,359.3 L1054.7,359.6 L1053.7,360.2 L1052.5,360.8 L1051.5,361.8 L1051,362.9 L1050.9,363.6 L1051.2,364.9 L1051.5,365.5 L1052.5,366.5 L1054.1,367.1 L1054.7,367.9 L1055.2,368.3 L1056.6,369 L1057.5,370.1 L1057.5,370.3 L1057.5,371 L1057.3,371.5 L1055.6,371.9 L1055,372.2 L1054.5,372.7ZM1093.3,367.9 L1093.5,368.7 L1093.1,369.3 L1092.3,369.5 L1091.7,369.1 L1091.5,368.3 L1091.9,367.7 L1092.7,367.5ZM1098.2,380.4 L1098.5,381.2 L1098.4,382.1 L1098.2,382.6 L1097.9,382.9 L1097.3,383 L1096.9,382.7 L1096.6,382.1 L1096.6,380.9 L1096.9,380.3 L1097.3,380 L1097.9,380.1ZM1100.2,484.6 L1098.9,484.6 L1097.7,485.1 L1096.8,486 L1096.3,487.3 L1096.3,488.6 L1096.8,489.8 L1097.7,490.7 L1099,491.2 L1100.3,491.2 L1101.5,490.7 L1102.4,489.8 L1102.9,488.5 L1102.9,487.2 L1102.4,486 L1101.5,485.1ZM1055.1,388.6 L1055.9,390.1 L1056.8,391 L1058,391.5 L1059.3,391.5 L1060.6,391 L1061.5,390.1 L1062,388.9 L1062,387.6 L1061.8,386.9 L1061.1,385.8 L1060.6,385.4 L1059.2,384.7 L1058.6,383.3 L1058.2,382.8 L1057.1,382.1 L1055.8,381.8 L1055.2,381.9 L1054.5,382.1 L1053.4,382.8 L1052.7,383.9 L1052.4,385.2 L1052.7,386.5 L1053,387.1 L1053.9,388ZM1044,515.8 L1043.3,516.9 L1043.1,517.6 L1043,518.2 L1043.3,519.5 L1044,520.6 L1045.1,521.3 L1045.8,521.5 L1047.3,521.5 L1048.3,521.8 L1048.9,521.9 L1049.9,521.8 L1051.4,522.1 L1052.9,521.8 L1053.9,521.9 L1054.6,521.8 L1055.5,521.5 L1056.9,521.5 L1057.6,521.3 L1058.7,520.6 L1059.1,520.1 L1059.6,518.8 L1059.6,517.5 L1059.1,516.3 L1058.2,515.4 L1056.9,514.9 L1055.7,514.9 L1054.7,515.2 L1053.3,515.2 L1052.4,515.4 L1051.4,515.3 L1050.4,515.4 L1049.5,515.2 L1048,515.2 L1047.1,514.9 L1046.4,514.8 L1045.1,515.1ZM1023.6,385.5 L1023.8,386.3 L1024.5,387.3 L1025.1,387.8 L1026,388.2 L1026.2,388.7 L1026.6,388.4 L1027.6,388.3 L1028.9,387.8 L1029.1,387.8 L1030.2,388.5 L1031.4,388.8 L1032.4,390.2 L1033.6,391 L1034.8,391.2 L1035.5,391.1 L1037.1,390.5 L1038.4,391 L1039.7,391.1 L1040.1,391.2 L1040.3,391.6 L1040.3,391.8 L1039.9,392.3 L1038.3,392.4 L1037.6,392.6 L1036.5,393.3 L1035.8,394.4 L1035.6,395.1 L1035.6,396.3 L1035.8,397 L1036.5,398.1 L1037.6,398.8 L1038.9,399.1 L1039.6,399 L1041,398.5 L1041.4,398.6 L1042.4,400.1 L1043.5,400.9 L1044,401.8 L1044.4,402.3 L1045.5,403.1 L1046,404 L1046.4,404.5 L1047.5,405.2 L1048.8,405.5 L1050.1,405.2 L1050.7,404.9 L1051.6,404 L1052.1,402.8 L1052.2,402.1 L1052.1,401.4 L1051.6,400.2 L1051.2,399.7 L1050.1,398.9 L1049.6,398 L1049.2,397.5 L1048.1,396.7 L1047.6,395.8 L1047.2,395.3 L1046.3,394.6 L1045.9,392.9 L1045.2,391.8 L1044.7,391.4 L1043.8,390.9 L1043.6,390.7 L1043.7,390.2 L1044.6,389.2 L1044.9,388.6 L1045.2,387.3 L1045.1,386.7 L1044.9,386 L1044.2,384.8 L1043.7,383.7 L1042.7,382.8 L1041.6,382.3 L1040.2,382.3 L1039.5,382.5 L1038.2,383.3 L1038,383.3 L1036.9,382.6 L1036.2,382.4 L1034.9,382.4 L1033.7,382.7 L1032.8,382.2 L1031.6,381.8 L1031,380.4 L1030,379.5 L1028.9,379 L1027.5,379 L1026.2,379.5 L1025.2,379.6 L1024.5,379.8 L1023.4,380.5 L1023,381 L1022.5,382.3 L1022.5,383.5 L1023,384.8ZM1026.1,389 L1025.8,389.3 L1024.7,389.4 L1023.5,389.9 L1022.6,390.8 L1022.1,392.1 L1022.1,393.4 L1022.6,394.6 L1023.5,395.5 L1024.8,396 L1026.1,396 L1027.3,395.5 L1028.2,394.6 L1028.7,393.3 L1028.7,392.1 L1028.2,390.8 L1027.8,390.3 L1027.3,389.9 L1026.4,389.4ZM1034.7,372 L1035,372.4 L1035,373.9 L1035.2,374.5 L1035.9,375.6 L1037.1,376.4 L1038.6,376.7 L1038.8,377 L1039.3,378.1 L1039.7,378.6 L1040.3,379.1 L1041.5,379.6 L1042.8,379.6 L1044,379.1 L1045,378.1 L1045.3,377.5 L1045.5,376.4 L1045.7,376 L1047.6,375.6 L1048.8,374.9 L1049.5,373.8 L1049.7,373.2 L1049.7,371.9 L1049.5,371.2 L1048.8,370.1 L1048.2,369.7 L1047.3,369.2 L1047.1,368.9 L1047.1,367.5 L1046.9,366.8 L1046.1,365.5 L1046.1,365.2 L1046.8,364.1 L1047,363.4 L1047,362.1 L1046.5,360.9 L1046,360.3 L1044.9,359.6 L1043.7,359.4 L1043,359.4 L1041.8,359.9 L1040.5,361.1 L1039.2,360.7 L1038,360.7 L1037.3,360.9 L1036.2,361.7 L1035.5,362.8 L1035.3,363.4 L1035.3,364.6 L1035.1,365 L1034.9,365.2 L1033.8,365.5 L1032.8,366.2 L1032.3,366.7 L1031.8,368 L1031.8,369.3 L1032.3,370.5 L1033.3,371.4ZM1009.2,520.9 L1007.9,520.9 L1006.7,521.4 L1005.8,522.3 L1005.3,523.6 L1005.3,524.9 L1005.8,526.1 L1006.7,527 L1008,527.5 L1009.3,527.5 L1010.5,527 L1011.4,526.1 L1011.9,524.8 L1011.9,523.5 L1011.4,522.3 L1010.5,521.4ZM957.2,507.2 L957.3,507.4 L957,509 L957.2,510.3 L958,511.4 L959.4,512.4 L959.4,513.7 L959.7,515 L960.4,516 L961.4,516.7 L961.7,517.1 L961.5,518.2 L961.6,518.9 L961.8,519.6 L962.4,520.7 L961.7,521.9 L961.5,522.6 L961.5,523.9 L961.7,524.6 L962.7,526 L962.7,526.2 L962.2,527.5 L962.1,528.2 L962.2,528.9 L962.6,530 L962.5,530.3 L961.9,531.1 L961.5,531.7 L961.3,532.4 L961.3,533.6 L961.9,534.9 L962.3,535.4 L963.4,536.3 L963.3,537.8 L963.5,539 L963.9,539.7 L964.8,540.6 L966,541.1 L967.3,541.1 L967.9,540.9 L969.1,540.2 L969.5,539.6 L970.1,538.4 L970.3,538.3 L971.9,538 L972.3,538.2 L972.9,539 L973.4,539.4 L974.1,539.8 L975.3,540 L976.6,539.8 L977.8,539 L978.2,538.5 L978.6,537.4 L978.9,537.1 L980.4,536.8 L981,536.4 L981.5,536 L982.6,534.6 L984.3,534.6 L985.5,534.1 L986.5,533.1 L987.2,531.6 L989.1,531.2 L989.7,530.9 L990.6,530 L991.1,528.7 L991.1,527.4 L990.6,526.2 L990.2,525.6 L989.1,524.9 L989,524.6 L989.2,523.6 L989.1,522.9 L988.7,521.8 L988.6,521.2 L989.5,520.3 L990,519.2 L990.2,519 L991.8,518.7 L992.9,518 L993.3,517.4 L993.8,516.3 L993.9,515.6 L993.6,513.7 L994.2,512.7 L994.5,511.4 L994.2,510.2 L993.9,509.5 L993,508.6 L991.9,508.1 L991.7,507.9 L991.7,506.3 L991.5,505.7 L990.8,504.6 L989.6,503.6 L989.7,502.1 L989.5,500.9 L989.1,500.2 L988.2,499.3 L987,498.8 L986.3,498.7 L985.2,499 L984.8,498.9 L983.7,498 L982.6,497.5 L981.9,497.4 L980.2,497.6 L978.9,496.3 L978.3,496 L977.1,495.8 L975.7,496 L975.1,496.3 L974,497.3 L972.6,496.8 L971.9,496.8 L970.7,497 L969.4,497.7 L968.2,497.1 L967,496.9 L966.3,497 L965.1,497.4 L964.4,497.5 L963.3,497.1 L962,497.1 L960.8,497.6 L960.2,498.1 L959.5,499.1 L959.2,500.5 L959,500.7 L957.7,501 L957,501.4 L956.2,502.3 L955.8,502.8 L955.6,504.1 L955.8,505.4 L956.2,506.1ZM975.8,510.7 L976,511.1 L976,511.5 L975.8,511.9 L975.5,512.1 L974.6,512.3 L974,512 L973.7,511.7 L973.6,511.3 L973.7,510.9 L974,510.6 L974.3,510.4 L975.3,510.4ZM965.8,511.1 L966.1,511.4 L966.2,511.8 L966,512.4 L965.6,512.6 L965.2,512.8 L964.4,512.7 L964,512.5 L963.7,512.2 L963.6,511.6 L963.8,511.2 L964.2,511 L964.9,510.8ZM973.4,530.4 L973.7,531.6 L973.6,532.8 L973.3,533.8 L972.8,534.2 L972.3,533.8 L972.1,533.2 L971.9,532 L972,531.2 L972.2,530.4 L972.6,529.8 L973,529.8ZM982.5,501.9 L982.8,502.7 L982.7,503.6 L982.4,504.2 L982,504.5 L981.6,504.5 L981.2,504.2 L980.9,503.6 L980.9,502.4 L981.2,501.8 L981.6,501.5 L982.2,501.6ZM987.7,509.8 L987.9,510.1 L987.9,510.5 L987.5,510.9 L987.2,511.1 L986.7,511.2 L986,511 L985.7,510.8 L985.5,510.5 L985.6,510 L986.2,509.5 L987.2,509.5ZM982,517.2 L982.3,518.3 L982.1,519.1 L981.7,519.7 L981.1,519.8 L980.6,519.4 L980.4,518.9 L980.3,518.3 L980.5,517.5 L980.7,517.1 L981.1,516.8 L981.5,516.8Z" fill="#0000ff" fill-rule="evenodd"/>
<path d="M1269.7,328.6 L1269.2,329.6 L1268.9,330.9 L1269,331.6 L1269.5,332.8 L1269.9,333.3 L1271,334 L1272.5,334.4 L1272.8,334.5 L1273.4,336 L1273.8,336.5 L1274.3,336.9 L1275.5,337.4 L1276.2,337.5 L1277.5,337.2 L1278.1,336.9 L1279,336 L1279.5,336 L1280.6,336.9 L1281.2,337.2 L1282.5,337.5 L1283.1,337.4 L1283.8,337.2 L1284.9,336.5 L1285.9,335 L1286.4,335 L1287.5,335.6 L1288.8,335.9 L1290.1,335.6 L1291.2,334.9 L1291.9,333.8 L1292.1,333.1 L1292.2,332.5 L1291.9,331.2 L1291.6,330.6 L1290.7,329.6 L1290.3,328.1 L1290,327.5 L1289.1,326.6 L1287.5,325.8 L1287.4,323.8 L1287.7,323.4 L1288.5,323.1 L1289.6,322.4 L1290.3,321.3 L1290.6,320.5 L1292.2,319.7 L1293.1,318.8 L1293.4,318.2 L1293.7,316.9 L1293.4,315.6 L1293.1,315 L1292,313.9 L1291.9,313.7 L1292.2,312.2 L1291.9,310.7 L1292,310.5 L1293.1,309.4 L1293.4,308.8 L1293.7,307.5 L1293.5,305.9 L1294.3,305.2 L1295,304.1 L1295.2,303.4 L1295.4,301.9 L1295.9,301.7 L1297,302.5 L1297.6,302.8 L1298.9,303.1 L1299.6,303 L1300.8,302.5 L1301.3,302.1 L1302,301 L1302.2,300.3 L1302.3,299.7 L1302,298.4 L1301.3,297.3 L1300.2,296.6 L1299.5,296.4 L1298.3,296.4 L1297.4,296.6 L1296.9,296.5 L1296.2,294.7 L1295.3,293.6 L1295.2,292.8 L1295.3,292.4 L1296.9,291.6 L1297.8,290.7 L1298.3,289.5 L1298.5,288.5 L1299.4,287.5 L1299.9,286.3 L1300,285.6 L1299.7,284.3 L1299.4,283.7 L1298.6,282.8 L1298.7,282.2 L1299,282 L1300.3,281.9 L1301.6,281.5 L1302.1,281.6 L1302.8,282.6 L1303.3,283 L1304.5,283.5 L1305.9,283.5 L1307.1,283 L1308,282.1 L1308.3,281.5 L1308.6,280.2 L1308.5,278.9 L1309.9,277.9 L1310.6,276.8 L1310.8,276.1 L1310.9,274.8 L1310.4,273.8 L1310.4,273.3 L1310.7,273 L1311.2,272.7 L1311.7,272.8 L1311.9,273.1 L1311.9,274.6 L1312.5,275.8 L1313.4,276.7 L1314,277 L1315.3,277.3 L1316.6,277 L1317.7,276.3 L1318.4,275.2 L1318.7,273.9 L1318.4,272.6 L1318.1,272 L1317.2,271.1 L1316.6,270.8 L1315.3,270.5 L1314,270.8 L1313.2,271.2 L1312.9,271.2 L1312.6,271 L1312.4,270.5 L1312.4,269.4 L1312.2,268.7 L1311.9,268.1 L1311,267.1 L1310.9,266.9 L1311.4,265.8 L1311.7,264.5 L1311.4,263.2 L1310.7,262.1 L1309.6,261.4 L1308,260.9 L1307.5,259.3 L1306.8,258.2 L1306.3,257.8 L1305.1,257.3 L1303.3,257.2 L1302.5,255.6 L1301.6,254.7 L1300.3,254.2 L1298.4,254.2 L1297.4,252.8 L1296.3,252.1 L1295,251.8 L1294.3,251.9 L1293.1,252.4 L1292.2,253.2 L1291.9,253.3 L1290.1,252.6 L1288.9,252.6 L1288.2,252.8 L1287.1,253.5 L1286.7,254 L1286.4,254.6 L1286.1,256.1 L1285.9,256.3 L1285.4,256.5 L1284.1,256.5 L1283.5,256.7 L1282.6,257.2 L1281.2,257.5 L1280.6,257.8 L1279.7,258.7 L1279.2,259.9 L1279,260.9 L1278.1,261.9 L1277.6,263.2 L1277.6,264.4 L1277.8,265.1 L1278.1,265.7 L1279.2,266.8 L1279.3,267.1 L1279.1,268.4 L1279.4,269.9 L1279.2,270.4 L1279,270.5 L1277.9,270.6 L1276.2,271.3 L1276,271.2 L1275,270.3 L1274.4,270 L1273.1,269.7 L1272.5,269.8 L1271.8,270 L1270.7,270.7 L1270,271.8 L1269.7,273.1 L1269.8,273.7 L1270.3,275 L1270.7,275.5 L1271.8,276.2 L1273.4,276.6 L1273.7,276.9 L1274.2,278.1 L1274.6,278.6 L1275.1,279 L1276.6,279.6 L1276.8,279.8 L1276.9,281.5 L1277.1,282.2 L1277.8,283.3 L1279.1,284.1 L1279.2,284.5 L1279,285.9 L1278.1,286.9 L1277.6,288.1 L1277.4,289.1 L1276.6,290 L1276.3,290.6 L1276,291.9 L1276.2,293.3 L1276.1,293.6 L1275.2,294.3 L1274.9,294.4 L1273.8,294 L1273.1,293.9 L1271.8,294.2 L1270.7,294.9 L1270.3,295.4 L1269.8,296.6 L1269.8,297.9 L1270.3,299.2 L1271.2,300.1 L1271.8,300.4 L1272.5,300.6 L1273.7,300.6 L1274.2,300.8 L1274.4,301 L1274.7,302.5 L1275.3,303.6 L1275.4,303.8 L1275.1,304.2 L1274.3,304.7 L1273.8,305.1 L1273.1,306.2 L1272.8,307.5 L1273.1,309 L1273,309.2 L1271.9,310.3 L1271.4,311.6 L1271.4,312.9 L1271.6,313.5 L1272.2,314.5 L1272.1,314.9 L1270.7,316 L1270,317.1 L1269.7,318.4 L1270,319.9 L1269.9,320.1 L1268.8,321.2 L1268.3,322.4 L1268.3,323.7 L1268.5,324.4 L1268.8,325 L1269.9,326.1 L1270,326.3 L1269.7,327.8ZM1285.2,266.3 L1285.3,265.8 L1285.5,265.7 L1286.9,265.3 L1288,264.6 L1289,263.1 L1289.5,263.1 L1290.6,263.7 L1291.4,264 L1291.5,264.2 L1291.9,265.8 L1292.6,266.9 L1293.7,267.6 L1294.4,267.8 L1295.4,267.9 L1295.7,268.2 L1295.8,268.5 L1295.5,270 L1295.8,271.3 L1296.5,272.4 L1297.3,273 L1298.6,274.5 L1298.7,274.8 L1298.6,275.2 L1298.1,275.5 L1296.8,275.2 L1295.8,273.8 L1294.7,273.1 L1293.4,272.8 L1291.7,273 L1291.4,272.7 L1291.1,271.8 L1290.8,271.2 L1290.4,270.7 L1289.3,270 L1288,269.7 L1286.8,269.9 L1286.1,269.7 L1285.8,269.3 L1285.8,267.7ZM1285.4,306.5 L1285.1,308 L1284.4,309.3 L1283.5,309.9 L1283.2,310 L1282.7,309.8 L1282.5,309.6 L1282.2,308.9 L1282.2,308 L1282.7,306.6 L1283.2,305.7 L1284.1,305.1 L1284.7,305.1 L1285.1,305.4ZM1281.7,316.9 L1282,317.7 L1281.9,318.6 L1281.7,319.1 L1281.4,319.4 L1280.8,319.5 L1280.4,319.2 L1280.1,318.6 L1280.1,317.4 L1280.4,316.8 L1280.8,316.5 L1281.4,316.6ZM1279.3,325.2 L1279.2,326.4 L1278.7,327.5 L1278.2,328.1 L1277.6,328.4 L1277,328.4 L1276.8,328.2 L1276.4,327.8 L1276.3,326.6 L1276.5,325.8 L1276.9,325.1 L1277.7,324.3 L1278.3,324.2 L1278.6,324.2 L1279,324.6ZM1303.6,286.9 L1302.3,287.2 L1301.2,287.9 L1300.5,289 L1300.2,290.3 L1300.5,291.6 L1301.2,292.7 L1302.3,293.4 L1303.6,293.7 L1304.9,293.4 L1306,292.7 L1306.7,291.6 L1307,290.3 L1306.7,289 L1306,287.9 L1304.9,287.2ZM1265.1,286.2 L1263.8,286.2 L1262.6,286.7 L1261.7,287.6 L1261.2,288.9 L1261.2,290.2 L1261.7,291.4 L1262.6,292.3 L1263.9,292.8 L1265.2,292.8 L1266.4,292.3 L1267.3,291.4 L1267.8,290.1 L1267.8,288.8 L1267.3,287.6 L1266.4,286.7ZM1254,338.4 L1254,339.1 L1253.1,340 L1252.6,341.2 L1252.6,342.5 L1252.8,343.2 L1253.1,343.8 L1254,344.8 L1254.4,346.3 L1254.7,346.9 L1255.1,347.4 L1256.1,348.2 L1256.7,349 L1257.8,349.7 L1258.4,349.9 L1259.8,349.9 L1261,349.4 L1261.5,349 L1262.2,347.9 L1262.5,346.6 L1262.4,345.9 L1262,344.8 L1262.1,344.5 L1262.9,343.2 L1263.1,342.5 L1263.2,341.1 L1263.7,340.1 L1264,339.2 L1264.2,339 L1265.7,338.4 L1266.6,337.5 L1267.1,336.2 L1267.1,334.9 L1266.6,333.7 L1265.7,332.7 L1265.3,331.2 L1265,330.6 L1264.1,329.7 L1263.5,329.4 L1262.2,329.1 L1261.5,329.2 L1260.3,329.6 L1258.9,329.2 L1257.6,329.2 L1256.4,329.7 L1255.9,330.1 L1255.2,331.2 L1254.8,332.4 L1253.5,333.2 L1252.8,334.3 L1252.5,335.6 L1252.6,336.3 L1253.1,337.5ZM1254.4,276.8 L1253.1,277.1 L1252,277.8 L1251.3,278.9 L1251,280.2 L1251.3,281.5 L1252,282.6 L1253.1,283.3 L1254.4,283.6 L1255.7,283.3 L1256.8,282.6 L1257.5,281.5 L1257.8,280.2 L1257.5,278.9 L1256.8,277.8 L1255.7,277.1ZM1075.7,222.6 L1075.3,222.9 L1074.4,223 L1073.2,223.5 L1072.2,224.5 L1071.7,225.7 L1071.7,226.4 L1071.9,227.6 L1072.3,228.3 L1073.1,229.2 L1073.8,229.5 L1075,229.8 L1076.8,229.5 L1077.6,230.5 L1078.7,231.2 L1079.9,231.4 L1081.1,231.3 L1081.3,231.4 L1082.1,232.4 L1082.6,232.9 L1083.8,233.4 L1084.6,233.5 L1085.8,233.2 L1087.5,232.1 L1089,232.7 L1089.8,232.7 L1091,232.5 L1092,231.8 L1092.5,231.7 L1093.8,232.4 L1095.2,232.7 L1095.4,232.9 L1096.3,234.2 L1097.4,234.9 L1098.1,235.1 L1099.3,235.1 L1100.6,234.6 L1101.5,233.7 L1101.8,233.1 L1102.1,231.8 L1102,231.1 L1101.5,229.9 L1101.1,229.4 L1100.6,229 L1099.4,228.4 L1099.2,227.9 L1099.2,227.7 L1099.8,227 L1100.2,226.3 L1100.3,225.7 L1100.4,224.3 L1100.8,224 L1102,223.4 L1102.4,223.6 L1102.6,224.1 L1102,225.4 L1101.8,226 L1101.8,227.3 L1102,228 L1102.7,229.1 L1103.8,229.8 L1104.4,230 L1106.2,230.1 L1107,230.8 L1108.2,231.3 L1108.9,231.4 L1110.2,231.1 L1111.3,230.4 L1112,229.3 L1112.3,228 L1112.2,227.3 L1111.9,226.2 L1111.9,225.5 L1112.2,225.1 L1112.5,225 L1113.7,225.2 L1114.4,225.1 L1115.4,224.8 L1116.6,225 L1117.2,224.9 L1118.5,224.4 L1119.4,223.5 L1119.7,222.9 L1120,221.7 L1120.7,220.9 L1121.2,219.8 L1121.5,219.6 L1122.9,219.5 L1124.2,219 L1124.5,219 L1125.5,219.6 L1126.8,219.9 L1128.1,219.6 L1129.2,218.9 L1129.9,217.8 L1130.2,216.5 L1130.1,215.9 L1129.6,214.6 L1129.2,214.1 L1128.1,213.3 L1128,213.1 L1128,211.7 L1128.3,211.3 L1129.5,210.7 L1130.5,209.8 L1131,209.8 L1131.2,209.9 L1131.7,210.7 L1132.6,211.6 L1133.8,212.1 L1134.5,212.2 L1135.8,211.9 L1136.4,211.6 L1136.9,211.2 L1137.7,210.1 L1138.8,209.8 L1139.9,209.1 L1140.3,209.1 L1141.5,209.6 L1142.2,209.7 L1143.5,209.4 L1144.6,208.7 L1145.3,207.6 L1145.5,206.9 L1145.6,204.7 L1145.3,203 L1146.4,201.7 L1146.9,200.5 L1146.9,199.8 L1146.6,198.3 L1146.7,198.1 L1147.7,197 L1148.1,196.4 L1148.3,195.1 L1148.1,193.6 L1148.2,193.4 L1149.4,192.2 L1149.7,191.6 L1150,190.1 L1150.2,189.9 L1151.3,189.6 L1151.9,189.3 L1152.4,188.8 L1153.2,187.8 L1153.5,187.7 L1154.9,187.9 L1155.5,187.8 L1156.2,187.6 L1157.2,187 L1157.5,187 L1158.6,187.4 L1159.3,187.5 L1160.7,187.2 L1161.7,186.5 L1162.5,185.5 L1163.9,185.1 L1165,184.4 L1165.7,183.3 L1166,182.2 L1166.4,181.9 L1166.6,181.9 L1167,182.1 L1167.5,183 L1167.9,183.5 L1169,184.2 L1170.3,184.5 L1171.6,184.2 L1172.7,183.5 L1173.4,182.4 L1173.7,181.1 L1173.4,179.8 L1172.7,178.7 L1171.6,178 L1170.3,177.7 L1169.6,177.8 L1168.4,178.3 L1167.9,178.7 L1167.2,179.8 L1166.9,180.9 L1166.5,181.2 L1166.3,181.2 L1165.9,181 L1165.4,180.1 L1164.5,179.2 L1163.3,178.7 L1162.3,178.6 L1162.1,178.4 L1161.6,177.5 L1160.7,176.6 L1160.1,176.3 L1158.8,176 L1157.5,176.3 L1156.9,176.6 L1155.9,177.5 L1155,177.4 L1153.8,177.7 L1152.2,178.6 L1150.6,178 L1149.2,178 L1148,178.4 L1147.4,178.9 L1146.7,180 L1146.4,181 L1146.2,181.2 L1144.8,181.5 L1143.6,182.3 L1142.9,183.4 L1142.6,184.7 L1142.4,184.9 L1141.1,185.2 L1140.5,185.6 L1139.5,186.5 L1139,187.7 L1138.9,189 L1138.8,189.2 L1138,189.6 L1136.8,190.3 L1136.6,190.3 L1135.1,189.6 L1133.1,189.7 L1132.8,189.4 L1132.5,188.3 L1132.2,187.7 L1131.3,186.8 L1130.1,186.3 L1128.8,186.3 L1127.5,186.8 L1126.6,187.7 L1126.1,189 L1126,189.6 L1126.2,190.8 L1126,191.2 L1125.7,191.4 L1124.5,191.5 L1123.8,191.7 L1122.7,192.4 L1121.9,193.3 L1120.4,193.2 L1119.7,193.2 L1118.5,193.7 L1117.4,194.5 L1117,194.4 L1116.4,193.6 L1115.3,192.9 L1114,192.6 L1112.7,192.9 L1111.6,193.6 L1111.2,194.1 L1110.7,195.4 L1110.7,196.6 L1111.2,197.9 L1112.1,198.8 L1113.1,199.3 L1113.7,200.5 L1114.5,201.4 L1114.5,201.8 L1114,203.1 L1114,204.9 L1112.7,206 L1112.3,206.5 L1111.6,207.6 L1109.8,208 L1108.7,208.7 L1108.4,208.7 L1107.2,208.3 L1105.9,208.3 L1104.7,208.8 L1103.8,209.7 L1103.4,210.3 L1103.2,211.6 L1103.4,212.9 L1104.2,214.2 L1103.4,215.5 L1103.2,216.2 L1103.2,216.9 L1103.4,218.3 L1103.1,218.8 L1102.6,218.9 L1102.4,218.8 L1101.5,218 L1100.9,217.7 L1099.2,217.2 L1098.8,216 L1099.2,215.2 L1099.5,213.9 L1099.2,212.6 L1098.9,212 L1098.5,211.5 L1097.4,210.8 L1096.7,210.6 L1095.5,210.6 L1094.2,211.1 L1093.3,211.9 L1092.4,212.6 L1091.9,213.2 L1091.6,213.8 L1091.3,215 L1091.6,216.8 L1091.3,217.1 L1090.6,217.5 L1090.3,217.4 L1088.9,216.5 L1087,216.2 L1086.2,214.6 L1085.8,214.1 L1084.7,213.4 L1083.4,213.1 L1082.1,213.4 L1081.5,213.7 L1080.6,214.6 L1080.1,215.8 L1080.1,217.1 L1080.4,218.4 L1079.9,219.5 L1079.7,219.6 L1078.4,219.7 L1077.1,220.2 L1076.2,221.2ZM1131.6,199.5 L1131.9,200 L1132,200.6 L1131.9,201.2 L1131.6,201.7 L1131.1,202 L1130.5,202.1 L1129.9,202 L1129.4,201.7 L1129.1,201.2 L1129,200.6 L1129.1,200 L1129.4,199.5 L1129.9,199.2 L1130.5,199.1 L1131.1,199.2ZM1122.1,204.1 L1122.5,205 L1122.5,205.8 L1122.2,206.4 L1121.8,206.9 L1121.3,207.2 L1120.4,207.1 L1119.8,206.4 L1119.5,205.8 L1119.5,205 L1119.8,204.4 L1120.2,203.9 L1120.7,203.6 L1121.6,203.7ZM1145.5,162.6 L1146.4,163.4 L1146.5,164.8 L1147,166 L1147.9,166.9 L1149.1,167.4 L1150.7,167.6 L1152,167.3 L1153.1,166.6 L1153.5,166.1 L1154,164.9 L1154.1,164.2 L1153.8,162.9 L1153.1,161.8 L1152.2,161.1 L1152.1,160.9 L1152,159.5 L1151.5,158.2 L1150.6,157.3 L1149.4,156.8 L1148.1,156.8 L1146.6,157.1 L1145.5,157.8 L1144.8,158.9 L1144.5,160.2 L1144.8,161.5ZM1143.3,170.9 L1142,171.2 L1140.9,171.9 L1140.2,173 L1139.9,174.3 L1140.2,175.6 L1140.9,176.7 L1142,177.4 L1143.3,177.7 L1144.6,177.4 L1145.7,176.7 L1146.4,175.6 L1146.7,174.3 L1146.4,173 L1145.7,171.9 L1144.6,171.2ZM1054.7,230.7 L1052.7,230.3 L1051.4,230.6 L1050.3,231.3 L1049.9,231.8 L1049.4,233 L1049.4,234.3 L1049.9,235.6 L1050.8,236.5 L1052.6,237.5 L1053.2,237.7 L1054.2,237.8 L1055.5,237.5 L1056.7,236.7 L1058.3,236.4 L1058.9,236.1 L1060.1,235.1 L1061.6,234.8 L1062.8,234 L1064.3,233.7 L1065.3,233.1 L1066.3,233 L1067,232.8 L1068.1,232.1 L1068.5,231.6 L1069,230.4 L1069.1,229.7 L1068.8,228.4 L1068.5,227.8 L1067.9,227.1 L1066.8,226.4 L1065.5,226.1 L1064.2,226.4 L1062.8,227.2 L1061,227.5 L1060.3,227.7 L1058.1,229.1 L1057.1,229.2 L1055.9,229.7Z" fill="#ff4500" fill-rule="evenodd"/>
<rect x="42.6" y="8.3" width="55.300000000000004" height="80.5" rx="2" fill="#fff" fill-opacity="0.8" stroke="#d4d4d4" stroke-width="1"/>
<circle cx="59.9" cy="19.8" r="4.5" fill="#ff0000"/>
<text x="83" y="23.3" class="lg1">N</text>
<circle cx="59.9" cy="39" r="4.5" fill="#008000"/>
<text x="83" y="42.5" class="lg1">L</text>
<circle cx="59.9" cy="58.1" r="4.5" fill="#0000ff"/>
<text x="83" y="61.6" class="lg1">R</text>
<circle cx="59.9" cy="77.3" r="4.5" fill="#ff4500"/>
<text x="83" y="80.8" class="lg1">V</text>
<rect x="782.5" y="9.7" width="43.89999999999998" height="64.2" rx="2" fill="#fff" fill-opacity="0.8" stroke="#d4d4d4" stroke-width="1"/>
<circle cx="796.5" cy="19.1" r="3.4" fill="#ff0000"/>
<text x="814.8" y="21.200000000000003" class="lg2">N</text>
<circle cx="796.5" cy="34.3" r="3.4" fill="#008000"/>
<text x="814.8" y="36.4" class="lg2">L</text>
<circle cx="796.5" cy="49.4" r="3.4" fill="#0000ff"/>
<text x="814.8" y="51.5" class="lg2">R</text>
<circle cx="796.5" cy="65" r="3.4" fill="#ff4500"/>
<text x="814.8" y="67.1" class="lg2">V</text>
</svg>
<div class="cap" style="left:89px;top:666.3px">(a)</div>
<div class="cap" style="left:140px;top:666.3px">Original feature visualization</div>
<div class="cap" style="left:693.5px;top:666.3px">(b)</div>
<div class="cap" style="left:745px;top:666.3px">Low-Rank attention weight features visualization</div>
</body></html>
